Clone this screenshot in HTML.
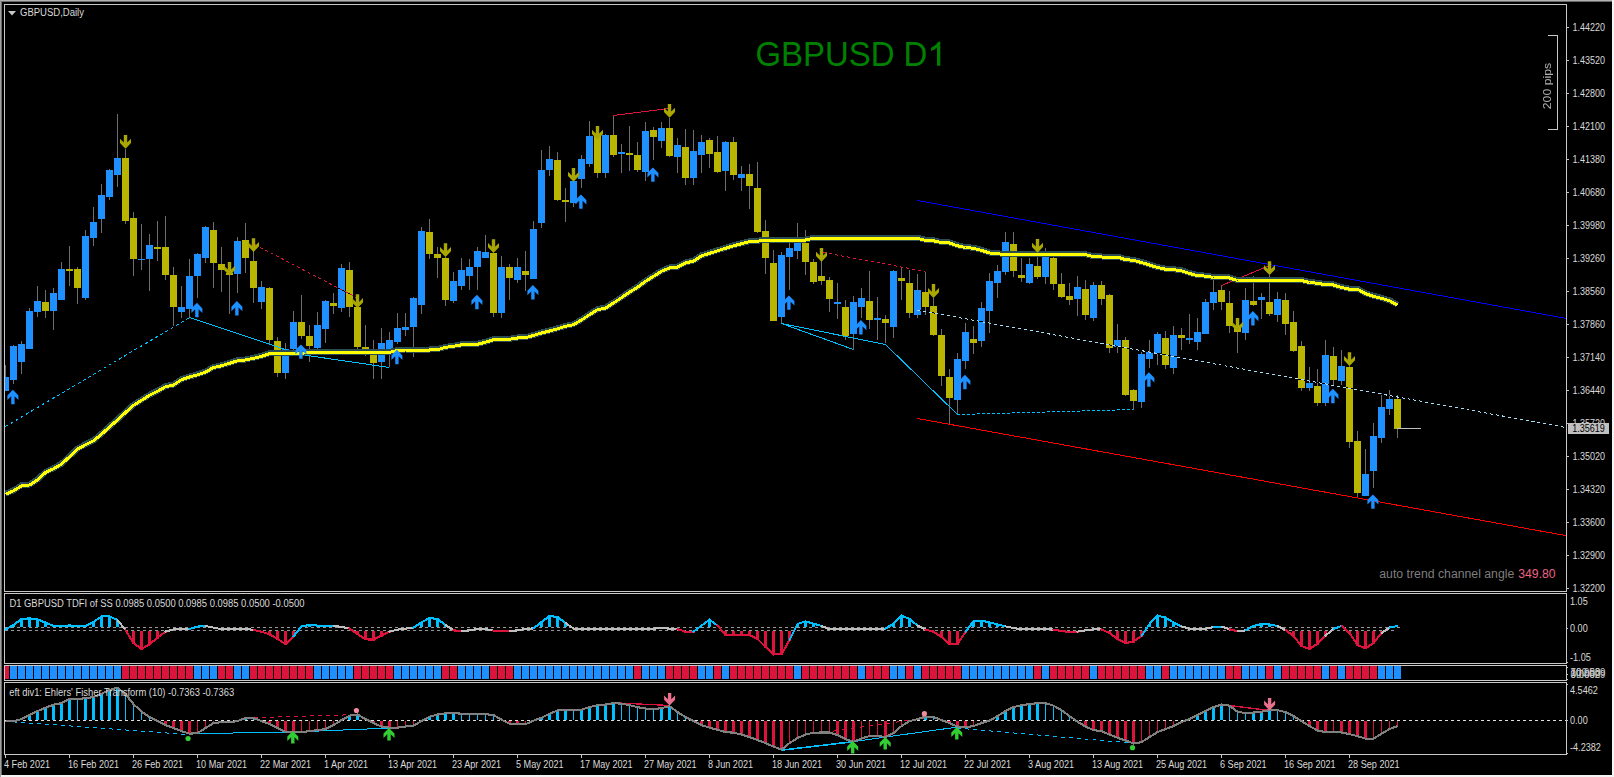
<!DOCTYPE html><html><head><meta charset="utf-8"><title>GBPUSD D1</title><style>html,body{margin:0;padding:0;background:#000;overflow:hidden}body{width:1614px;height:777px;font-family:"Liberation Sans", sans-serif}</style></head><body><svg width="1614" height="777" viewBox="0 0 1614 777" font-family='"Liberation Sans", sans-serif' style="display:block"><rect x="0" y="0" width="1614" height="777" fill="#000"/>
<rect x="0" y="0" width="1614" height="1" fill="#B2B2B2"/>
<rect x="0" y="0" width="1" height="777" fill="#A0A0A0"/>
<rect x="1" y="1" width="1612" height="1" fill="#696969"/>
<rect x="1" y="1" width="1" height="775" fill="#696969"/>
<rect x="1612" y="0" width="2" height="777" fill="#F4F4F4"/>
<rect x="0" y="775" width="1614" height="2" fill="#F4F4F4"/>
<rect x="0" y="0" width="1" height="777" fill="#A0A0A0"/>
<rect x="4" y="4" width="1" height="751" fill="#C8C8C8"/>
<rect x="4" y="4" width="1563" height="1" fill="#C8C8C8"/>
<rect x="1566" y="4" width="1" height="751" fill="#C8C8C8"/>
<rect x="4" y="591" width="1563" height="1" fill="#C8C8C8"/>
<rect x="4" y="593" width="1563" height="1" fill="#C8C8C8"/>
<rect x="4" y="663" width="1563" height="1" fill="#C8C8C8"/>
<rect x="4" y="665" width="1563" height="1" fill="#C8C8C8"/>
<rect x="4" y="680" width="1563" height="1" fill="#C8C8C8"/>
<rect x="4" y="682" width="1563" height="1" fill="#C8C8C8"/>
<rect x="4" y="754" width="1563" height="1" fill="#C8C8C8"/>
<rect x="1567" y="753" width="1" height="1" fill="#C8C8C8"/>
<rect x="4" y="592" width="1" height="1" fill="#000"/>
<rect x="1566" y="592" width="1" height="1" fill="#000"/>
<rect x="4" y="664" width="1" height="1" fill="#000"/>
<rect x="1566" y="664" width="1" height="1" fill="#000"/>
<rect x="4" y="681" width="1" height="1" fill="#000"/>
<rect x="1566" y="681" width="1" height="1" fill="#000"/>
<defs><clipPath id="cm"><rect x="5" y="5" width="1561" height="586"/></clipPath><clipPath id="c1"><rect x="5" y="594" width="1561" height="69"/></clipPath><clipPath id="c2"><rect x="5" y="666" width="1561" height="14"/></clipPath><clipPath id="c3"><rect x="5" y="683" width="1561" height="71"/></clipPath></defs>
<g clip-path="url(#cm)" shape-rendering="crispEdges">
<rect x="5" y="365" width="1" height="26" fill="#6E6E6E"/>
<rect x="2" y="377" width="7" height="14" fill="#1E90FF"/>
<rect x="13" y="345" width="1" height="39" fill="#6E6E6E"/>
<rect x="10" y="346" width="7" height="34" fill="#1E90FF"/>
<rect x="21" y="341" width="1" height="33" fill="#6E6E6E"/>
<rect x="18" y="344" width="7" height="18" fill="#1E90FF"/>
<rect x="29" y="308" width="1" height="41" fill="#6E6E6E"/>
<rect x="26" y="311" width="7" height="38" fill="#1E90FF"/>
<rect x="37" y="286" width="1" height="31" fill="#6E6E6E"/>
<rect x="34" y="301" width="7" height="11" fill="#1E90FF"/>
<rect x="45" y="290" width="1" height="28" fill="#6E6E6E"/>
<rect x="42" y="302" width="7" height="9" fill="#B9B500"/>
<rect x="53" y="288" width="1" height="42" fill="#6E6E6E"/>
<rect x="50" y="293" width="7" height="18" fill="#1E90FF"/>
<rect x="61" y="262" width="1" height="38" fill="#6E6E6E"/>
<rect x="58" y="269" width="7" height="31" fill="#1E90FF"/>
<rect x="69" y="246" width="1" height="40" fill="#6E6E6E"/>
<rect x="66" y="269" width="7" height="2" fill="#B9B500"/>
<rect x="77" y="267" width="1" height="37" fill="#6E6E6E"/>
<rect x="74" y="269" width="7" height="19" fill="#B9B500"/>
<rect x="85" y="230" width="1" height="70" fill="#6E6E6E"/>
<rect x="82" y="236" width="7" height="62" fill="#1E90FF"/>
<rect x="93" y="207" width="1" height="39" fill="#6E6E6E"/>
<rect x="90" y="222" width="7" height="16" fill="#1E90FF"/>
<rect x="101" y="184" width="1" height="49" fill="#6E6E6E"/>
<rect x="98" y="195" width="7" height="24" fill="#1E90FF"/>
<rect x="109" y="169" width="1" height="31" fill="#6E6E6E"/>
<rect x="106" y="170" width="7" height="27" fill="#1E90FF"/>
<rect x="117" y="114" width="1" height="73" fill="#6E6E6E"/>
<rect x="114" y="158" width="7" height="17" fill="#1E90FF"/>
<rect x="125" y="149" width="1" height="75" fill="#6E6E6E"/>
<rect x="122" y="158" width="7" height="63" fill="#B9B500"/>
<rect x="133" y="212" width="1" height="64" fill="#6E6E6E"/>
<rect x="130" y="218" width="7" height="41" fill="#B9B500"/>
<rect x="141" y="224" width="1" height="46" fill="#6E6E6E"/>
<rect x="138" y="259" width="7" height="1" fill="#1E90FF"/>
<rect x="149" y="234" width="1" height="57" fill="#6E6E6E"/>
<rect x="146" y="245" width="7" height="14" fill="#1E90FF"/>
<rect x="157" y="221" width="1" height="40" fill="#6E6E6E"/>
<rect x="154" y="247" width="7" height="2" fill="#B9B500"/>
<rect x="165" y="216" width="1" height="64" fill="#6E6E6E"/>
<rect x="162" y="247" width="7" height="28" fill="#B9B500"/>
<rect x="173" y="267" width="1" height="59" fill="#6E6E6E"/>
<rect x="170" y="275" width="7" height="32" fill="#B9B500"/>
<rect x="181" y="286" width="1" height="32" fill="#6E6E6E"/>
<rect x="178" y="307" width="7" height="5" fill="#1E90FF"/>
<rect x="189" y="259" width="1" height="58" fill="#6E6E6E"/>
<rect x="186" y="276" width="7" height="33" fill="#1E90FF"/>
<rect x="197" y="253" width="1" height="45" fill="#6E6E6E"/>
<rect x="194" y="254" width="7" height="22" fill="#1E90FF"/>
<rect x="205" y="226" width="1" height="37" fill="#6E6E6E"/>
<rect x="202" y="227" width="7" height="31" fill="#1E90FF"/>
<rect x="213" y="222" width="1" height="66" fill="#6E6E6E"/>
<rect x="210" y="230" width="7" height="33" fill="#B9B500"/>
<rect x="221" y="247" width="1" height="45" fill="#6E6E6E"/>
<rect x="218" y="264" width="7" height="6" fill="#B9B500"/>
<rect x="229" y="268" width="1" height="46" fill="#6E6E6E"/>
<rect x="226" y="273" width="7" height="2" fill="#B9B500"/>
<rect x="237" y="237" width="1" height="56" fill="#6E6E6E"/>
<rect x="234" y="241" width="7" height="33" fill="#1E90FF"/>
<rect x="245" y="223" width="1" height="50" fill="#6E6E6E"/>
<rect x="242" y="240" width="7" height="18" fill="#B9B500"/>
<rect x="253" y="251" width="1" height="52" fill="#6E6E6E"/>
<rect x="250" y="261" width="7" height="27" fill="#B9B500"/>
<rect x="261" y="281" width="1" height="28" fill="#6E6E6E"/>
<rect x="258" y="287" width="7" height="15" fill="#1E90FF"/>
<rect x="269" y="287" width="1" height="57" fill="#6E6E6E"/>
<rect x="266" y="288" width="7" height="52" fill="#B9B500"/>
<rect x="277" y="337" width="1" height="40" fill="#6E6E6E"/>
<rect x="274" y="341" width="7" height="32" fill="#B9B500"/>
<rect x="285" y="343" width="1" height="36" fill="#6E6E6E"/>
<rect x="282" y="349" width="7" height="24" fill="#1E90FF"/>
<rect x="293" y="311" width="1" height="40" fill="#6E6E6E"/>
<rect x="290" y="322" width="7" height="27" fill="#1E90FF"/>
<rect x="301" y="295" width="1" height="44" fill="#6E6E6E"/>
<rect x="298" y="322" width="7" height="14" fill="#B9B500"/>
<rect x="309" y="325" width="1" height="37" fill="#6E6E6E"/>
<rect x="306" y="336" width="7" height="10" fill="#B9B500"/>
<rect x="317" y="312" width="1" height="37" fill="#6E6E6E"/>
<rect x="314" y="325" width="7" height="23" fill="#1E90FF"/>
<rect x="325" y="300" width="1" height="43" fill="#6E6E6E"/>
<rect x="322" y="301" width="7" height="28" fill="#1E90FF"/>
<rect x="333" y="293" width="1" height="21" fill="#6E6E6E"/>
<rect x="330" y="303" width="7" height="3" fill="#B9B500"/>
<rect x="341" y="264" width="1" height="48" fill="#6E6E6E"/>
<rect x="338" y="268" width="7" height="40" fill="#1E90FF"/>
<rect x="349" y="262" width="1" height="55" fill="#6E6E6E"/>
<rect x="346" y="270" width="7" height="37" fill="#B9B500"/>
<rect x="357" y="305" width="1" height="44" fill="#6E6E6E"/>
<rect x="354" y="307" width="7" height="40" fill="#B9B500"/>
<rect x="365" y="325" width="1" height="31" fill="#6E6E6E"/>
<rect x="362" y="347" width="7" height="2" fill="#B9B500"/>
<rect x="373" y="340" width="1" height="39" fill="#6E6E6E"/>
<rect x="370" y="349" width="7" height="14" fill="#B9B500"/>
<rect x="381" y="328" width="1" height="51" fill="#6E6E6E"/>
<rect x="378" y="343" width="7" height="19" fill="#1E90FF"/>
<rect x="389" y="332" width="1" height="35" fill="#6E6E6E"/>
<rect x="386" y="340" width="7" height="11" fill="#1E90FF"/>
<rect x="397" y="313" width="1" height="31" fill="#6E6E6E"/>
<rect x="394" y="328" width="7" height="14" fill="#1E90FF"/>
<rect x="405" y="313" width="1" height="23" fill="#6E6E6E"/>
<rect x="402" y="327" width="7" height="3" fill="#1E90FF"/>
<rect x="413" y="297" width="1" height="60" fill="#6E6E6E"/>
<rect x="410" y="298" width="7" height="29" fill="#1E90FF"/>
<rect x="421" y="227" width="1" height="87" fill="#6E6E6E"/>
<rect x="418" y="231" width="7" height="74" fill="#1E90FF"/>
<rect x="429" y="219" width="1" height="40" fill="#6E6E6E"/>
<rect x="426" y="232" width="7" height="22" fill="#B9B500"/>
<rect x="437" y="247" width="1" height="31" fill="#6E6E6E"/>
<rect x="434" y="254" width="7" height="4" fill="#B9B500"/>
<rect x="445" y="257" width="1" height="49" fill="#6E6E6E"/>
<rect x="442" y="258" width="7" height="42" fill="#B9B500"/>
<rect x="453" y="272" width="1" height="31" fill="#6E6E6E"/>
<rect x="450" y="281" width="7" height="20" fill="#1E90FF"/>
<rect x="461" y="258" width="1" height="32" fill="#6E6E6E"/>
<rect x="458" y="270" width="7" height="16" fill="#1E90FF"/>
<rect x="469" y="259" width="1" height="31" fill="#6E6E6E"/>
<rect x="466" y="267" width="7" height="9" fill="#1E90FF"/>
<rect x="477" y="247" width="1" height="43" fill="#6E6E6E"/>
<rect x="474" y="251" width="7" height="16" fill="#1E90FF"/>
<rect x="485" y="235" width="1" height="23" fill="#6E6E6E"/>
<rect x="482" y="252" width="7" height="6" fill="#1E90FF"/>
<rect x="493" y="253" width="1" height="64" fill="#6E6E6E"/>
<rect x="490" y="253" width="7" height="60" fill="#B9B500"/>
<rect x="501" y="256" width="1" height="62" fill="#6E6E6E"/>
<rect x="498" y="267" width="7" height="46" fill="#1E90FF"/>
<rect x="509" y="264" width="1" height="36" fill="#6E6E6E"/>
<rect x="506" y="267" width="7" height="11" fill="#B9B500"/>
<rect x="517" y="258" width="1" height="25" fill="#6E6E6E"/>
<rect x="514" y="267" width="7" height="13" fill="#1E90FF"/>
<rect x="525" y="251" width="1" height="40" fill="#6E6E6E"/>
<rect x="522" y="271" width="7" height="4" fill="#B9B500"/>
<rect x="533" y="221" width="1" height="58" fill="#6E6E6E"/>
<rect x="530" y="229" width="7" height="50" fill="#1E90FF"/>
<rect x="541" y="150" width="1" height="78" fill="#6E6E6E"/>
<rect x="538" y="170" width="7" height="53" fill="#1E90FF"/>
<rect x="549" y="146" width="1" height="30" fill="#6E6E6E"/>
<rect x="546" y="159" width="7" height="11" fill="#1E90FF"/>
<rect x="557" y="152" width="1" height="49" fill="#6E6E6E"/>
<rect x="554" y="160" width="7" height="40" fill="#B9B500"/>
<rect x="565" y="188" width="1" height="34" fill="#6E6E6E"/>
<rect x="562" y="200" width="7" height="2" fill="#B9B500"/>
<rect x="573" y="180" width="1" height="27" fill="#6E6E6E"/>
<rect x="570" y="181" width="7" height="22" fill="#1E90FF"/>
<rect x="581" y="155" width="1" height="33" fill="#6E6E6E"/>
<rect x="578" y="159" width="7" height="20" fill="#1E90FF"/>
<rect x="589" y="121" width="1" height="46" fill="#6E6E6E"/>
<rect x="586" y="136" width="7" height="28" fill="#1E90FF"/>
<rect x="597" y="134" width="1" height="44" fill="#6E6E6E"/>
<rect x="594" y="135" width="7" height="38" fill="#B9B500"/>
<rect x="605" y="134" width="1" height="44" fill="#6E6E6E"/>
<rect x="602" y="135" width="7" height="38" fill="#1E90FF"/>
<rect x="613" y="115" width="1" height="42" fill="#6E6E6E"/>
<rect x="610" y="135" width="7" height="20" fill="#B9B500"/>
<rect x="621" y="144" width="1" height="29" fill="#6E6E6E"/>
<rect x="618" y="152" width="7" height="2" fill="#1E90FF"/>
<rect x="629" y="126" width="1" height="45" fill="#6E6E6E"/>
<rect x="626" y="153" width="7" height="2" fill="#B9B500"/>
<rect x="637" y="142" width="1" height="30" fill="#6E6E6E"/>
<rect x="634" y="155" width="7" height="15" fill="#B9B500"/>
<rect x="645" y="122" width="1" height="59" fill="#6E6E6E"/>
<rect x="642" y="131" width="7" height="41" fill="#1E90FF"/>
<rect x="653" y="127" width="1" height="33" fill="#6E6E6E"/>
<rect x="650" y="130" width="7" height="7" fill="#B9B500"/>
<rect x="661" y="122" width="1" height="26" fill="#6E6E6E"/>
<rect x="658" y="128" width="7" height="13" fill="#1E90FF"/>
<rect x="669" y="118" width="1" height="39" fill="#6E6E6E"/>
<rect x="666" y="128" width="7" height="28" fill="#B9B500"/>
<rect x="677" y="138" width="1" height="35" fill="#6E6E6E"/>
<rect x="674" y="145" width="7" height="12" fill="#1E90FF"/>
<rect x="685" y="129" width="1" height="56" fill="#6E6E6E"/>
<rect x="682" y="147" width="7" height="31" fill="#B9B500"/>
<rect x="693" y="130" width="1" height="55" fill="#6E6E6E"/>
<rect x="690" y="151" width="7" height="27" fill="#1E90FF"/>
<rect x="701" y="135" width="1" height="38" fill="#6E6E6E"/>
<rect x="698" y="142" width="7" height="13" fill="#1E90FF"/>
<rect x="709" y="138" width="1" height="30" fill="#6E6E6E"/>
<rect x="706" y="140" width="7" height="14" fill="#B9B500"/>
<rect x="717" y="136" width="1" height="37" fill="#6E6E6E"/>
<rect x="714" y="152" width="7" height="20" fill="#B9B500"/>
<rect x="725" y="141" width="1" height="50" fill="#6E6E6E"/>
<rect x="722" y="142" width="7" height="29" fill="#1E90FF"/>
<rect x="733" y="137" width="1" height="43" fill="#6E6E6E"/>
<rect x="730" y="142" width="7" height="33" fill="#B9B500"/>
<rect x="741" y="166" width="1" height="25" fill="#6E6E6E"/>
<rect x="738" y="174" width="7" height="4" fill="#1E90FF"/>
<rect x="749" y="164" width="1" height="45" fill="#6E6E6E"/>
<rect x="746" y="174" width="7" height="12" fill="#B9B500"/>
<rect x="757" y="162" width="1" height="71" fill="#6E6E6E"/>
<rect x="754" y="188" width="7" height="44" fill="#B9B500"/>
<rect x="765" y="220" width="1" height="54" fill="#6E6E6E"/>
<rect x="762" y="231" width="7" height="27" fill="#B9B500"/>
<rect x="773" y="250" width="1" height="71" fill="#6E6E6E"/>
<rect x="770" y="263" width="7" height="58" fill="#B9B500"/>
<rect x="781" y="252" width="1" height="71" fill="#6E6E6E"/>
<rect x="778" y="255" width="7" height="62" fill="#1E90FF"/>
<rect x="789" y="243" width="1" height="47" fill="#6E6E6E"/>
<rect x="786" y="248" width="7" height="9" fill="#1E90FF"/>
<rect x="797" y="223" width="1" height="36" fill="#6E6E6E"/>
<rect x="794" y="243" width="7" height="8" fill="#1E90FF"/>
<rect x="805" y="230" width="1" height="45" fill="#6E6E6E"/>
<rect x="802" y="243" width="7" height="19" fill="#B9B500"/>
<rect x="813" y="259" width="1" height="25" fill="#6E6E6E"/>
<rect x="810" y="262" width="7" height="20" fill="#B9B500"/>
<rect x="821" y="261" width="1" height="24" fill="#6E6E6E"/>
<rect x="818" y="276" width="7" height="5" fill="#B9B500"/>
<rect x="829" y="277" width="1" height="35" fill="#6E6E6E"/>
<rect x="826" y="280" width="7" height="19" fill="#B9B500"/>
<rect x="837" y="283" width="1" height="36" fill="#6E6E6E"/>
<rect x="834" y="302" width="7" height="2" fill="#1E90FF"/>
<rect x="845" y="300" width="1" height="40" fill="#6E6E6E"/>
<rect x="842" y="307" width="7" height="29" fill="#B9B500"/>
<rect x="853" y="296" width="1" height="54" fill="#6E6E6E"/>
<rect x="850" y="302" width="7" height="32" fill="#1E90FF"/>
<rect x="861" y="288" width="1" height="30" fill="#6E6E6E"/>
<rect x="858" y="298" width="7" height="9" fill="#1E90FF"/>
<rect x="869" y="271" width="1" height="58" fill="#6E6E6E"/>
<rect x="866" y="301" width="7" height="19" fill="#B9B500"/>
<rect x="877" y="297" width="1" height="43" fill="#6E6E6E"/>
<rect x="874" y="318" width="7" height="2" fill="#1E90FF"/>
<rect x="885" y="315" width="1" height="28" fill="#6E6E6E"/>
<rect x="882" y="319" width="7" height="4" fill="#B9B500"/>
<rect x="893" y="270" width="1" height="68" fill="#6E6E6E"/>
<rect x="890" y="271" width="7" height="56" fill="#1E90FF"/>
<rect x="901" y="267" width="1" height="33" fill="#6E6E6E"/>
<rect x="898" y="278" width="7" height="3" fill="#B9B500"/>
<rect x="909" y="270" width="1" height="48" fill="#6E6E6E"/>
<rect x="906" y="283" width="7" height="30" fill="#B9B500"/>
<rect x="917" y="274" width="1" height="44" fill="#6E6E6E"/>
<rect x="914" y="290" width="7" height="25" fill="#1E90FF"/>
<rect x="925" y="272" width="1" height="43" fill="#6E6E6E"/>
<rect x="922" y="292" width="7" height="15" fill="#B9B500"/>
<rect x="933" y="298" width="1" height="38" fill="#6E6E6E"/>
<rect x="930" y="306" width="7" height="29" fill="#B9B500"/>
<rect x="941" y="329" width="1" height="57" fill="#6E6E6E"/>
<rect x="938" y="335" width="7" height="41" fill="#B9B500"/>
<rect x="949" y="369" width="1" height="55" fill="#6E6E6E"/>
<rect x="946" y="377" width="7" height="21" fill="#B9B500"/>
<rect x="957" y="353" width="1" height="62" fill="#6E6E6E"/>
<rect x="954" y="359" width="7" height="41" fill="#1E90FF"/>
<rect x="965" y="323" width="1" height="46" fill="#6E6E6E"/>
<rect x="962" y="332" width="7" height="29" fill="#1E90FF"/>
<rect x="973" y="326" width="1" height="28" fill="#6E6E6E"/>
<rect x="970" y="339" width="7" height="4" fill="#B9B500"/>
<rect x="981" y="302" width="1" height="45" fill="#6E6E6E"/>
<rect x="978" y="308" width="7" height="33" fill="#1E90FF"/>
<rect x="989" y="273" width="1" height="60" fill="#6E6E6E"/>
<rect x="986" y="281" width="7" height="30" fill="#1E90FF"/>
<rect x="997" y="265" width="1" height="33" fill="#6E6E6E"/>
<rect x="994" y="271" width="7" height="12" fill="#1E90FF"/>
<rect x="1005" y="232" width="1" height="43" fill="#6E6E6E"/>
<rect x="1002" y="242" width="7" height="30" fill="#1E90FF"/>
<rect x="1013" y="232" width="1" height="45" fill="#6E6E6E"/>
<rect x="1010" y="244" width="7" height="27" fill="#B9B500"/>
<rect x="1021" y="258" width="1" height="24" fill="#6E6E6E"/>
<rect x="1018" y="275" width="7" height="3" fill="#B9B500"/>
<rect x="1029" y="258" width="1" height="26" fill="#6E6E6E"/>
<rect x="1026" y="264" width="7" height="19" fill="#1E90FF"/>
<rect x="1037" y="252" width="1" height="27" fill="#6E6E6E"/>
<rect x="1034" y="266" width="7" height="11" fill="#B9B500"/>
<rect x="1045" y="248" width="1" height="36" fill="#6E6E6E"/>
<rect x="1042" y="257" width="7" height="20" fill="#1E90FF"/>
<rect x="1053" y="257" width="1" height="33" fill="#6E6E6E"/>
<rect x="1050" y="258" width="7" height="26" fill="#B9B500"/>
<rect x="1061" y="273" width="1" height="25" fill="#6E6E6E"/>
<rect x="1058" y="284" width="7" height="13" fill="#B9B500"/>
<rect x="1069" y="283" width="1" height="22" fill="#6E6E6E"/>
<rect x="1066" y="296" width="7" height="4" fill="#B9B500"/>
<rect x="1077" y="276" width="1" height="40" fill="#6E6E6E"/>
<rect x="1074" y="287" width="7" height="12" fill="#1E90FF"/>
<rect x="1085" y="280" width="1" height="40" fill="#6E6E6E"/>
<rect x="1082" y="289" width="7" height="26" fill="#B9B500"/>
<rect x="1093" y="282" width="1" height="39" fill="#6E6E6E"/>
<rect x="1090" y="285" width="7" height="33" fill="#1E90FF"/>
<rect x="1101" y="281" width="1" height="24" fill="#6E6E6E"/>
<rect x="1098" y="285" width="7" height="14" fill="#B9B500"/>
<rect x="1109" y="294" width="1" height="59" fill="#6E6E6E"/>
<rect x="1106" y="295" width="7" height="53" fill="#B9B500"/>
<rect x="1117" y="324" width="1" height="29" fill="#6E6E6E"/>
<rect x="1114" y="340" width="7" height="7" fill="#1E90FF"/>
<rect x="1125" y="337" width="1" height="59" fill="#6E6E6E"/>
<rect x="1122" y="340" width="7" height="55" fill="#B9B500"/>
<rect x="1133" y="389" width="1" height="21" fill="#6E6E6E"/>
<rect x="1130" y="390" width="7" height="11" fill="#B9B500"/>
<rect x="1141" y="352" width="1" height="56" fill="#6E6E6E"/>
<rect x="1138" y="354" width="7" height="48" fill="#1E90FF"/>
<rect x="1149" y="340" width="1" height="28" fill="#6E6E6E"/>
<rect x="1146" y="352" width="7" height="7" fill="#1E90FF"/>
<rect x="1157" y="332" width="1" height="33" fill="#6E6E6E"/>
<rect x="1154" y="334" width="7" height="19" fill="#1E90FF"/>
<rect x="1165" y="331" width="1" height="38" fill="#6E6E6E"/>
<rect x="1162" y="338" width="7" height="27" fill="#B9B500"/>
<rect x="1173" y="326" width="1" height="48" fill="#6E6E6E"/>
<rect x="1170" y="335" width="7" height="33" fill="#1E90FF"/>
<rect x="1181" y="328" width="1" height="22" fill="#6E6E6E"/>
<rect x="1178" y="335" width="7" height="3" fill="#B9B500"/>
<rect x="1189" y="314" width="1" height="30" fill="#6E6E6E"/>
<rect x="1186" y="338" width="7" height="2" fill="#1E90FF"/>
<rect x="1197" y="318" width="1" height="32" fill="#6E6E6E"/>
<rect x="1194" y="332" width="7" height="10" fill="#1E90FF"/>
<rect x="1205" y="299" width="1" height="35" fill="#6E6E6E"/>
<rect x="1202" y="302" width="7" height="32" fill="#1E90FF"/>
<rect x="1213" y="280" width="1" height="30" fill="#6E6E6E"/>
<rect x="1210" y="292" width="7" height="11" fill="#1E90FF"/>
<rect x="1221" y="285" width="1" height="25" fill="#6E6E6E"/>
<rect x="1218" y="290" width="7" height="12" fill="#B9B500"/>
<rect x="1229" y="291" width="1" height="42" fill="#6E6E6E"/>
<rect x="1226" y="303" width="7" height="23" fill="#B9B500"/>
<rect x="1237" y="322" width="1" height="31" fill="#6E6E6E"/>
<rect x="1234" y="326" width="7" height="6" fill="#B9B500"/>
<rect x="1245" y="288" width="1" height="52" fill="#6E6E6E"/>
<rect x="1242" y="300" width="7" height="33" fill="#1E90FF"/>
<rect x="1253" y="276" width="1" height="30" fill="#6E6E6E"/>
<rect x="1250" y="301" width="7" height="4" fill="#B9B500"/>
<rect x="1261" y="293" width="1" height="26" fill="#6E6E6E"/>
<rect x="1258" y="297" width="7" height="3" fill="#1E90FF"/>
<rect x="1269" y="275" width="1" height="41" fill="#6E6E6E"/>
<rect x="1266" y="302" width="7" height="12" fill="#B9B500"/>
<rect x="1277" y="292" width="1" height="30" fill="#6E6E6E"/>
<rect x="1274" y="299" width="7" height="16" fill="#1E90FF"/>
<rect x="1285" y="293" width="1" height="42" fill="#6E6E6E"/>
<rect x="1282" y="300" width="7" height="24" fill="#B9B500"/>
<rect x="1293" y="311" width="1" height="41" fill="#6E6E6E"/>
<rect x="1290" y="322" width="7" height="29" fill="#B9B500"/>
<rect x="1301" y="341" width="1" height="50" fill="#6E6E6E"/>
<rect x="1298" y="346" width="7" height="42" fill="#B9B500"/>
<rect x="1309" y="367" width="1" height="24" fill="#6E6E6E"/>
<rect x="1306" y="383" width="7" height="5" fill="#1E90FF"/>
<rect x="1317" y="369" width="1" height="37" fill="#6E6E6E"/>
<rect x="1314" y="386" width="7" height="17" fill="#B9B500"/>
<rect x="1325" y="340" width="1" height="66" fill="#6E6E6E"/>
<rect x="1322" y="355" width="7" height="48" fill="#1E90FF"/>
<rect x="1333" y="347" width="1" height="38" fill="#6E6E6E"/>
<rect x="1330" y="356" width="7" height="24" fill="#B9B500"/>
<rect x="1341" y="350" width="1" height="35" fill="#6E6E6E"/>
<rect x="1338" y="366" width="7" height="15" fill="#1E90FF"/>
<rect x="1349" y="366" width="1" height="82" fill="#6E6E6E"/>
<rect x="1346" y="367" width="7" height="75" fill="#B9B500"/>
<rect x="1357" y="431" width="1" height="67" fill="#6E6E6E"/>
<rect x="1354" y="441" width="7" height="52" fill="#B9B500"/>
<rect x="1365" y="449" width="1" height="47" fill="#6E6E6E"/>
<rect x="1362" y="474" width="7" height="22" fill="#1E90FF"/>
<rect x="1373" y="423" width="1" height="65" fill="#6E6E6E"/>
<rect x="1370" y="436" width="7" height="35" fill="#1E90FF"/>
<rect x="1381" y="393" width="1" height="50" fill="#6E6E6E"/>
<rect x="1378" y="407" width="7" height="31" fill="#1E90FF"/>
<rect x="1389" y="390" width="1" height="25" fill="#6E6E6E"/>
<rect x="1386" y="399" width="7" height="10" fill="#1E90FF"/>
<rect x="1397" y="395" width="1" height="43" fill="#6E6E6E"/>
<rect x="1394" y="399" width="7" height="30" fill="#B9B500"/>
<rect x="1397" y="428" width="24" height="1" fill="#C0C0C0"/>
<line x1="5.5" y1="426.5" x2="189.5" y2="317.5" stroke="#000" stroke-width="1"/>
<line x1="5.5" y1="426.5" x2="189.5" y2="317.5" stroke="#00BFFF" stroke-width="1" stroke-dasharray="3 3"/>
<polyline points="189.5,317.5 300.5,354.5 389.5,367.5" fill="none" stroke="#00BFFF" stroke-width="1" />
<line x1="254.5" y1="244.5" x2="356.5" y2="297.5" stroke="#000" stroke-width="1"/>
<line x1="254.5" y1="244.5" x2="356.5" y2="297.5" stroke="#DC143C" stroke-width="1" stroke-dasharray="3 3"/>
<line x1="613.5" y1="115.5" x2="669.5" y2="108.5" stroke="#DC143C" stroke-width="1"/>
<line x1="823.5" y1="252.5" x2="925.5" y2="271.5" stroke="#000" stroke-width="1"/>
<line x1="823.5" y1="252.5" x2="925.5" y2="271.5" stroke="#DC143C" stroke-width="1" stroke-dasharray="3 3"/>
<line x1="781.5" y1="323.5" x2="853.5" y2="349.5" stroke="#00BFFF" stroke-width="1"/>
<polyline points="781.5,323.5 885.5,344.5 957.5,414.5" fill="none" stroke="#00BFFF" stroke-width="1" />
<line x1="957.5" y1="414.5" x2="1133.5" y2="409.5" stroke="#000" stroke-width="1"/>
<line x1="957.5" y1="414.5" x2="1133.5" y2="409.5" stroke="#00BFFF" stroke-width="1" stroke-dasharray="3 2"/>
<line x1="1221.5" y1="285.5" x2="1269.5" y2="265.5" stroke="#DC143C" stroke-width="1"/>
<line x1="917.5" y1="200.5" x2="1566.5" y2="318.5" stroke="#0000FF" stroke-width="1"/>
<line x1="917.5" y1="418.5" x2="1566.5" y2="535.7" stroke="#FF0000" stroke-width="1"/>
<line x1="917.5" y1="310.1" x2="1566.5" y2="427.6" stroke="#000" stroke-width="1"/>
<line x1="917.5" y1="310.1" x2="1566.5" y2="427.6" stroke="#A6DDF2" stroke-width="1" stroke-dasharray="3 3"/>
</g>
<g clip-path="url(#cm)" shape-rendering="crispEdges">
<polyline points="5.5,493.7 13.5,490.3 21.5,485.3 29.5,484.5 37.5,479.5 45.5,472.0 53.5,468.2 61.5,463.7 69.5,456.2 77.5,448.7 85.5,444.2 93.5,440.3 101.5,433.7 109.5,426.5 117.5,419.5 125.5,412.0 133.5,404.8 141.5,399.8 149.5,394.8 157.5,390.8 165.5,386.2 173.5,384.5 181.5,379.2 189.5,376.5 197.5,374.3 205.5,371.6 213.5,367.0 221.5,365.3 229.5,362.8 237.5,360.3 245.5,359.5 253.5,357.8 261.5,355.8 269.5,353.2 277.5,353.2 285.5,353.2 293.5,353.2 301.5,352.8 309.5,352.0 317.5,352.0 325.5,352.0 333.5,352.0 341.5,352.0 349.5,352.0 357.5,352.0 365.5,352.0 373.5,352.0 381.5,352.0 389.5,352.0 397.5,349.8 405.5,349.5 413.5,349.5 421.5,349.5 429.5,349.5 437.5,349.2 445.5,346.8 453.5,345.8 461.5,344.3 469.5,343.9 477.5,343.8 485.5,341.7 493.5,339.2 501.5,338.8 509.5,338.8 517.5,337.5 525.5,337.2 533.5,335.0 541.5,332.5 549.5,330.5 557.5,328.3 565.5,325.8 573.5,324.2 581.5,319.5 589.5,314.2 597.5,309.2 605.5,307.5 613.5,302.5 621.5,297.2 629.5,291.7 637.5,286.7 645.5,280.8 653.5,275.8 661.5,270.8 669.5,267.5 677.5,266.7 685.5,262.5 693.5,260.6 701.5,255.3 709.5,252.9 717.5,250.3 725.5,247.8 733.5,245.3 741.5,243.2 749.5,241.2 757.5,240.8 765.5,239.5 773.5,239.5 781.5,239.5 789.5,239.5 797.5,239.5 805.5,239.5 813.5,237.8 821.5,237.8 829.5,237.8 837.5,237.8 845.5,237.8 853.5,237.8 861.5,237.8 869.5,237.8 877.5,237.8 885.5,237.8 893.5,237.8 901.5,237.8 909.5,237.8 917.5,237.8 925.5,239.8 933.5,240.3 941.5,242.0 949.5,242.5 957.5,245.3 965.5,247.0 973.5,247.8 981.5,249.8 989.5,252.5 997.5,253.2 1005.5,254.2 1013.5,254.2 1021.5,254.2 1029.5,254.2 1037.5,254.2 1045.5,254.2 1053.5,254.2 1061.5,254.2 1069.5,254.2 1077.5,254.2 1085.5,254.2 1093.5,256.2 1101.5,256.5 1109.5,256.5 1117.5,256.5 1125.5,259.2 1133.5,259.8 1141.5,262.0 1149.5,264.5 1157.5,267.0 1165.5,268.7 1173.5,269.2 1181.5,270.3 1189.5,273.0 1197.5,275.1 1205.5,275.6 1213.5,277.0 1221.5,277.0 1229.5,277.5 1237.5,280.0 1245.5,280.0 1253.5,280.0 1261.5,280.0 1269.5,280.0 1277.5,280.0 1285.5,280.0 1293.5,280.0 1301.5,280.0 1309.5,282.0 1317.5,282.8 1325.5,284.2 1333.5,284.5 1341.5,287.0 1349.5,288.7 1357.5,288.7 1365.5,293.2 1373.5,295.8 1381.5,297.8 1389.5,300.3 1397.5,304.5" fill="none" stroke="#2B4C50" stroke-width="6" stroke-linejoin="round"/>
<polyline points="5.5,494.2 13.5,490.8 21.5,485.8 29.5,485.0 37.5,480.0 45.5,472.5 53.5,468.7 61.5,464.2 69.5,456.7 77.5,449.2 85.5,444.7 93.5,440.8 101.5,434.2 109.5,427.0 117.5,420.0 125.5,412.5 133.5,405.3 141.5,400.3 149.5,395.3 157.5,391.3 165.5,386.7 173.5,385.0 181.5,379.7 189.5,377.0 197.5,374.8 205.5,372.1 213.5,367.5 221.5,365.8 229.5,363.3 237.5,360.8 245.5,360.0 253.5,358.3 261.5,356.3 269.5,353.7 277.5,353.7 285.5,353.7 293.5,353.7 301.5,353.3 309.5,352.5 317.5,352.5 325.5,352.5 333.5,352.5 341.5,352.5 349.5,352.5 357.5,352.5 365.5,352.5 373.5,352.5 381.5,352.5 389.5,352.5 397.5,350.3 405.5,350.0 413.5,350.0 421.5,350.0 429.5,350.0 437.5,349.7 445.5,347.3 453.5,346.3 461.5,344.8 469.5,344.4 477.5,344.3 485.5,342.2 493.5,339.7 501.5,339.3 509.5,339.3 517.5,338.0 525.5,337.7 533.5,335.5 541.5,333.0 549.5,331.0 557.5,328.8 565.5,326.3 573.5,324.7 581.5,320.0 589.5,314.7 597.5,309.7 605.5,308.0 613.5,303.0 621.5,297.7 629.5,292.2 637.5,287.2 645.5,281.3 653.5,276.3 661.5,271.3 669.5,268.0 677.5,267.2 685.5,263.0 693.5,261.1 701.5,255.8 709.5,253.4 717.5,250.8 725.5,248.3 733.5,245.8 741.5,243.7 749.5,241.7 757.5,241.3 765.5,240.0 773.5,240.0 781.5,240.0 789.5,240.0 797.5,240.0 805.5,240.0 813.5,238.3 821.5,238.3 829.5,238.3 837.5,238.3 845.5,238.3 853.5,238.3 861.5,238.3 869.5,238.3 877.5,238.3 885.5,238.3 893.5,238.3 901.5,238.3 909.5,238.3 917.5,238.3 925.5,240.3 933.5,240.8 941.5,242.5 949.5,243.0 957.5,245.8 965.5,247.5 973.5,248.3 981.5,250.3 989.5,253.0 997.5,253.7 1005.5,254.7 1013.5,254.7 1021.5,254.7 1029.5,254.7 1037.5,254.7 1045.5,254.7 1053.5,254.7 1061.5,254.7 1069.5,254.7 1077.5,254.7 1085.5,254.7 1093.5,256.7 1101.5,257.0 1109.5,257.0 1117.5,257.0 1125.5,259.7 1133.5,260.3 1141.5,262.5 1149.5,265.0 1157.5,267.5 1165.5,269.2 1173.5,269.7 1181.5,270.8 1189.5,273.5 1197.5,275.6 1205.5,276.1 1213.5,277.5 1221.5,277.5 1229.5,278.0 1237.5,280.5 1245.5,280.5 1253.5,280.5 1261.5,280.5 1269.5,280.5 1277.5,280.5 1285.5,280.5 1293.5,280.5 1301.5,280.5 1309.5,282.5 1317.5,283.3 1325.5,284.7 1333.5,285.0 1341.5,287.5 1349.5,289.2 1357.5,289.2 1365.5,293.7 1373.5,296.3 1381.5,298.3 1389.5,300.8 1397.5,305.0" fill="none" stroke="#FFFF00" stroke-width="3" stroke-linejoin="round"/>
</g>
<g clip-path="url(#cm)">
<polygon points="12.9,389.8 18.4,395.5 18.4,400.0 14.6,396.2 14.6,404.2 11.2,404.2 11.2,396.2 7.4,400.0 7.4,395.5" fill="#1E90FF"/>
<polygon points="196.9,302.8 202.4,308.5 202.4,313.0 198.6,309.2 198.6,317.2 195.2,317.2 195.2,309.2 191.4,313.0 191.4,308.5" fill="#1E90FF"/>
<polygon points="236.9,301.1 242.4,306.8 242.4,311.3 238.6,307.5 238.6,315.5 235.2,315.5 235.2,307.5 231.4,311.3 231.4,306.8" fill="#1E90FF"/>
<polygon points="300.9,344.4 306.4,350.1 306.4,354.6 302.6,350.8 302.6,358.8 299.2,358.8 299.2,350.8 295.4,354.6 295.4,350.1" fill="#1E90FF"/>
<polygon points="396.9,349.8 402.4,355.5 402.4,360.0 398.6,356.2 398.6,364.2 395.2,364.2 395.2,356.2 391.4,360.0 391.4,355.5" fill="#1E90FF"/>
<polygon points="125.5,148.8 131.0,143.1 131.0,138.8 127.2,142.6 127.2,135.0 123.8,135.0 123.8,142.6 120.0,138.8 120.0,143.1" fill="#AAA800"/>
<polygon points="229.5,275.8 235.0,270.1 235.0,265.8 231.2,269.6 231.2,262.0 227.8,262.0 227.8,269.6 224.0,265.8 224.0,270.1" fill="#AAA800"/>
<polygon points="253.5,252.0 259.0,246.3 259.0,242.0 255.2,245.8 255.2,238.2 251.8,238.2 251.8,245.8 248.0,242.0 248.0,246.3" fill="#AAA800"/>
<polygon points="357.5,308.1 363.0,302.4 363.0,298.1 359.2,301.9 359.2,294.3 355.8,294.3 355.8,301.9 352.0,298.1 352.0,302.4" fill="#AAA800"/>
<polygon points="445.5,257.0 451.0,251.3 451.0,247.0 447.2,250.8 447.2,243.2 443.8,243.2 443.8,250.8 440.0,247.0 440.0,251.3" fill="#AAA800"/>
<polygon points="493.5,253.0 499.0,247.3 499.0,243.0 495.2,246.8 495.2,239.2 491.8,239.2 491.8,246.8 488.0,243.0 488.0,247.3" fill="#AAA800"/>
<polygon points="573.5,181.8 579.0,176.1 579.0,171.8 575.2,175.6 575.2,168.0 571.8,168.0 571.8,175.6 568.0,171.8 568.0,176.1" fill="#AAA800"/>
<polygon points="597.5,139.8 603.0,134.1 603.0,129.8 599.2,133.6 599.2,126.0 595.8,126.0 595.8,133.6 592.0,129.8 592.0,134.1" fill="#AAA800"/>
<polygon points="669.5,117.8 675.0,112.1 675.0,107.8 671.2,111.6 671.2,104.0 667.8,104.0 667.8,111.6 664.0,107.8 664.0,112.1" fill="#AAA800"/>
<polygon points="580.9,194.4 586.4,200.1 586.4,204.6 582.6,200.8 582.6,208.8 579.2,208.8 579.2,200.8 575.4,204.6 575.4,200.1" fill="#1E90FF"/>
<polygon points="652.9,167.4 658.4,173.1 658.4,177.6 654.6,173.8 654.6,181.8 651.2,181.8 651.2,173.8 647.4,177.6 647.4,173.1" fill="#1E90FF"/>
<polygon points="476.9,294.8 482.4,300.5 482.4,305.0 478.6,301.2 478.6,309.2 475.2,309.2 475.2,301.2 471.4,305.0 471.4,300.5" fill="#1E90FF"/>
<polygon points="532.9,285.1 538.4,290.8 538.4,295.3 534.6,291.5 534.6,299.5 531.2,299.5 531.2,291.5 527.4,295.3 527.4,290.8" fill="#1E90FF"/>
<polygon points="788.9,295.4 794.4,301.1 794.4,305.6 790.6,301.8 790.6,309.8 787.2,309.8 787.2,301.8 783.4,305.6 783.4,301.1" fill="#1E90FF"/>
<polygon points="821.5,261.8 827.0,256.1 827.0,251.8 823.2,255.6 823.2,248.0 819.8,248.0 819.8,255.6 816.0,251.8 816.0,256.1" fill="#AAA800"/>
<polygon points="933.5,297.9 939.0,292.2 939.0,287.9 935.2,291.7 935.2,284.1 931.8,284.1 931.8,291.7 928.0,287.9 928.0,292.2" fill="#AAA800"/>
<polygon points="1037.5,252.8 1043.0,247.1 1043.0,242.8 1039.2,246.6 1039.2,239.0 1035.8,239.0 1035.8,246.6 1032.0,242.8 1032.0,247.1" fill="#AAA800"/>
<polygon points="860.9,320.0 866.4,325.7 866.4,330.2 862.6,326.4 862.6,334.4 859.2,334.4 859.2,326.4 855.4,330.2 855.4,325.7" fill="#1E90FF"/>
<polygon points="964.9,374.8 970.4,380.5 970.4,385.0 966.6,381.2 966.6,389.2 963.2,389.2 963.2,381.2 959.4,385.0 959.4,380.5" fill="#1E90FF"/>
<polygon points="1148.9,372.3 1154.4,378.0 1154.4,382.5 1150.6,378.7 1150.6,386.7 1147.2,386.7 1147.2,378.7 1143.4,382.5 1143.4,378.0" fill="#1E90FF"/>
<polygon points="1237.5,331.8 1243.0,326.1 1243.0,321.8 1239.2,325.6 1239.2,318.0 1235.8,318.0 1235.8,325.6 1232.0,321.8 1232.0,326.1" fill="#AAA800"/>
<polygon points="1269.5,275.1 1275.0,269.4 1275.0,265.1 1271.2,268.9 1271.2,261.3 1267.8,261.3 1267.8,268.9 1264.0,265.1 1264.0,269.4" fill="#AAA800"/>
<polygon points="1349.5,366.0 1355.0,360.3 1355.0,356.0 1351.2,359.8 1351.2,352.2 1347.8,352.2 1347.8,359.8 1344.0,356.0 1344.0,360.3" fill="#AAA800"/>
<polygon points="1252.9,311.0 1258.4,316.7 1258.4,321.2 1254.6,317.4 1254.6,325.4 1251.2,325.4 1251.2,317.4 1247.4,321.2 1247.4,316.7" fill="#1E90FF"/>
<polygon points="1332.9,388.8 1338.4,394.5 1338.4,399.0 1334.6,395.2 1334.6,403.2 1331.2,403.2 1331.2,395.2 1327.4,399.0 1327.4,394.5" fill="#1E90FF"/>
<polygon points="1372.9,494.4 1378.4,500.1 1378.4,504.6 1374.6,500.8 1374.6,508.8 1371.2,508.8 1371.2,500.8 1367.4,504.6 1367.4,500.1" fill="#1E90FF"/>
</g>
<polygon points="8,11 16,11 12,15.5" fill="#C8C8C8"/>
<text x="20.0" y="16.4" font-size="10.0" fill="#DADADA" textLength="64.0" lengthAdjust="spacingAndGlyphs" >GBPUSD,Daily</text>
<text x="755.4" y="65.7" font-size="35.3" fill="#008000" textLength="172.0" lengthAdjust="spacingAndGlyphs" >GBPUSD D</text>
<polygon points="940.3,41.7 938.2,41.7 936.6,44.0 934.2,46.0 931.1,47.8 931.1,50.9 934.4,49.5 937.0,47.4 937.0,65.8 940.3,65.8" fill="#008000"/>
<text x="1379.3" y="578.0" font-size="12" fill="#7E7E7E" textLength="135.0" lengthAdjust="spacingAndGlyphs" >auto trend channel angle</text>
<text x="1518.3" y="578.0" font-size="12" fill="#EE6482" textLength="37.3" lengthAdjust="spacingAndGlyphs" >349.80</text>
<rect x="1548" y="35" width="10" height="1" fill="#C8C8C8"/>
<rect x="1548" y="129" width="10" height="1" fill="#C8C8C8"/>
<rect x="1557" y="35" width="1" height="95" fill="#C8C8C8"/>
<text transform="translate(1551,109.3) rotate(-90)" font-size="10.7" fill="#B0B0B0" style="filter:grayscale(1)" textLength="46.5" lengthAdjust="spacingAndGlyphs">200 pips</text>
<rect x="1567" y="27" width="2" height="1" fill="#C8C8C8"/>
<text x="1572.5" y="31.0" font-size="10.0" fill="#DADADA" textLength="32.5" lengthAdjust="spacingAndGlyphs" >1.44220</text>
<rect x="1567" y="60" width="2" height="1" fill="#C8C8C8"/>
<text x="1572.5" y="64.0" font-size="10.0" fill="#DADADA" textLength="32.5" lengthAdjust="spacingAndGlyphs" >1.43520</text>
<rect x="1567" y="93" width="2" height="1" fill="#C8C8C8"/>
<text x="1572.5" y="97.0" font-size="10.0" fill="#DADADA" textLength="32.5" lengthAdjust="spacingAndGlyphs" >1.42800</text>
<rect x="1567" y="126" width="2" height="1" fill="#C8C8C8"/>
<text x="1572.5" y="130.0" font-size="10.0" fill="#DADADA" textLength="32.5" lengthAdjust="spacingAndGlyphs" >1.42100</text>
<rect x="1567" y="159" width="2" height="1" fill="#C8C8C8"/>
<text x="1572.5" y="163.0" font-size="10.0" fill="#DADADA" textLength="32.5" lengthAdjust="spacingAndGlyphs" >1.41380</text>
<rect x="1567" y="192" width="2" height="1" fill="#C8C8C8"/>
<text x="1572.5" y="196.0" font-size="10.0" fill="#DADADA" textLength="32.5" lengthAdjust="spacingAndGlyphs" >1.40680</text>
<rect x="1567" y="225" width="2" height="1" fill="#C8C8C8"/>
<text x="1572.5" y="229.0" font-size="10.0" fill="#DADADA" textLength="32.5" lengthAdjust="spacingAndGlyphs" >1.39980</text>
<rect x="1567" y="258" width="2" height="1" fill="#C8C8C8"/>
<text x="1572.5" y="262.0" font-size="10.0" fill="#DADADA" textLength="32.5" lengthAdjust="spacingAndGlyphs" >1.39260</text>
<rect x="1567" y="291" width="2" height="1" fill="#C8C8C8"/>
<text x="1572.5" y="295.0" font-size="10.0" fill="#DADADA" textLength="32.5" lengthAdjust="spacingAndGlyphs" >1.38560</text>
<rect x="1567" y="324" width="2" height="1" fill="#C8C8C8"/>
<text x="1572.5" y="328.0" font-size="10.0" fill="#DADADA" textLength="32.5" lengthAdjust="spacingAndGlyphs" >1.37860</text>
<rect x="1567" y="357" width="2" height="1" fill="#C8C8C8"/>
<text x="1572.5" y="361.0" font-size="10.0" fill="#DADADA" textLength="32.5" lengthAdjust="spacingAndGlyphs" >1.37140</text>
<rect x="1567" y="390" width="2" height="1" fill="#C8C8C8"/>
<text x="1572.5" y="394.0" font-size="10.0" fill="#DADADA" textLength="32.5" lengthAdjust="spacingAndGlyphs" >1.36440</text>
<rect x="1567" y="423" width="2" height="1" fill="#C8C8C8"/>
<text x="1572.5" y="427.0" font-size="10.0" fill="#DADADA" textLength="32.5" lengthAdjust="spacingAndGlyphs" >1.35720</text>
<rect x="1567" y="456" width="2" height="1" fill="#C8C8C8"/>
<text x="1572.5" y="460.0" font-size="10.0" fill="#DADADA" textLength="32.5" lengthAdjust="spacingAndGlyphs" >1.35020</text>
<rect x="1567" y="489" width="2" height="1" fill="#C8C8C8"/>
<text x="1572.5" y="493.0" font-size="10.0" fill="#DADADA" textLength="32.5" lengthAdjust="spacingAndGlyphs" >1.34320</text>
<rect x="1567" y="522" width="2" height="1" fill="#C8C8C8"/>
<text x="1572.5" y="526.0" font-size="10.0" fill="#DADADA" textLength="32.5" lengthAdjust="spacingAndGlyphs" >1.33600</text>
<rect x="1567" y="555" width="2" height="1" fill="#C8C8C8"/>
<text x="1572.5" y="559.0" font-size="10.0" fill="#DADADA" textLength="32.5" lengthAdjust="spacingAndGlyphs" >1.32900</text>
<rect x="1567" y="588" width="2" height="1" fill="#C8C8C8"/>
<text x="1572.5" y="592.0" font-size="10.0" fill="#DADADA" textLength="32.5" lengthAdjust="spacingAndGlyphs" >1.32200</text>
<rect x="1568" y="423" width="41" height="11" fill="#C0C0C0"/>
<text x="1572.3" y="432.0" font-size="10.0" fill="#000" textLength="32.5" lengthAdjust="spacingAndGlyphs" >1.35619</text>
<text x="9.4" y="606.7" font-size="10.0" fill="#DADADA" textLength="295.0" lengthAdjust="spacingAndGlyphs" >D1 GBPUSD TDFI of SS 0.0985 0.0500 0.0985 0.0985 0.0500 -0.0500</text>
<g clip-path="url(#c1)" shape-rendering="crispEdges">
<line x1="5" y1="627.5" x2="1400" y2="627.5" stroke="#989898" stroke-width="1" stroke-dasharray="3 3"/>
<line x1="5" y1="630.5" x2="1396" y2="630.5" stroke="#989898" stroke-width="1" stroke-dasharray="3 3"/>
<rect x="12" y="625" width="3" height="2" fill="#00BFFF"/>
<rect x="20" y="619" width="3" height="8" fill="#00BFFF"/>
<rect x="28" y="618" width="3" height="9" fill="#00BFFF"/>
<rect x="36" y="619" width="3" height="8" fill="#00BFFF"/>
<rect x="44" y="623" width="3" height="4" fill="#00BFFF"/>
<rect x="68" y="625" width="3" height="2" fill="#00BFFF"/>
<rect x="92" y="622" width="3" height="5" fill="#00BFFF"/>
<rect x="100" y="616" width="3" height="11" fill="#00BFFF"/>
<rect x="108" y="616" width="3" height="11" fill="#00BFFF"/>
<rect x="116" y="620" width="3" height="7" fill="#00BFFF"/>
<rect x="132" y="631" width="3" height="13" fill="#DC143C"/>
<rect x="140" y="631" width="3" height="19" fill="#DC143C"/>
<rect x="148" y="631" width="3" height="14" fill="#DC143C"/>
<rect x="156" y="631" width="3" height="8" fill="#DC143C"/>
<rect x="164" y="631" width="3" height="2" fill="#DC143C"/>
<rect x="260" y="631" width="3" height="2" fill="#DC143C"/>
<rect x="268" y="631" width="3" height="4" fill="#DC143C"/>
<rect x="276" y="631" width="3" height="9" fill="#DC143C"/>
<rect x="284" y="631" width="3" height="14" fill="#DC143C"/>
<rect x="292" y="631" width="3" height="6" fill="#DC143C"/>
<rect x="308" y="625" width="3" height="2" fill="#00BFFF"/>
<rect x="356" y="631" width="3" height="4" fill="#DC143C"/>
<rect x="364" y="631" width="3" height="9" fill="#DC143C"/>
<rect x="372" y="631" width="3" height="10" fill="#DC143C"/>
<rect x="380" y="631" width="3" height="6" fill="#DC143C"/>
<rect x="388" y="631" width="3" height="2" fill="#DC143C"/>
<rect x="420" y="622" width="3" height="5" fill="#00BFFF"/>
<rect x="428" y="618" width="3" height="9" fill="#00BFFF"/>
<rect x="436" y="619" width="3" height="8" fill="#00BFFF"/>
<rect x="444" y="625" width="3" height="2" fill="#00BFFF"/>
<rect x="540" y="622" width="3" height="5" fill="#00BFFF"/>
<rect x="548" y="616" width="3" height="11" fill="#00BFFF"/>
<rect x="556" y="617" width="3" height="10" fill="#00BFFF"/>
<rect x="564" y="623" width="3" height="4" fill="#00BFFF"/>
<rect x="684" y="631" width="3" height="2" fill="#DC143C"/>
<rect x="692" y="631" width="3" height="2" fill="#DC143C"/>
<rect x="708" y="620" width="3" height="7" fill="#00BFFF"/>
<rect x="724" y="631" width="3" height="5" fill="#DC143C"/>
<rect x="732" y="631" width="3" height="5" fill="#DC143C"/>
<rect x="740" y="631" width="3" height="5" fill="#DC143C"/>
<rect x="748" y="631" width="3" height="5" fill="#DC143C"/>
<rect x="756" y="631" width="3" height="9" fill="#DC143C"/>
<rect x="764" y="631" width="3" height="17" fill="#DC143C"/>
<rect x="772" y="631" width="3" height="24" fill="#DC143C"/>
<rect x="780" y="631" width="3" height="24" fill="#DC143C"/>
<rect x="788" y="631" width="3" height="10" fill="#DC143C"/>
<rect x="796" y="624" width="3" height="3" fill="#00BFFF"/>
<rect x="804" y="621" width="3" height="6" fill="#00BFFF"/>
<rect x="812" y="624" width="3" height="3" fill="#00BFFF"/>
<rect x="892" y="624" width="3" height="3" fill="#00BFFF"/>
<rect x="900" y="616" width="3" height="11" fill="#00BFFF"/>
<rect x="908" y="619" width="3" height="8" fill="#00BFFF"/>
<rect x="932" y="631" width="3" height="2" fill="#DC143C"/>
<rect x="940" y="631" width="3" height="7" fill="#DC143C"/>
<rect x="948" y="631" width="3" height="14" fill="#DC143C"/>
<rect x="956" y="631" width="3" height="14" fill="#DC143C"/>
<rect x="964" y="631" width="3" height="2" fill="#DC143C"/>
<rect x="972" y="621" width="3" height="6" fill="#00BFFF"/>
<rect x="980" y="621" width="3" height="6" fill="#00BFFF"/>
<rect x="988" y="622" width="3" height="5" fill="#00BFFF"/>
<rect x="996" y="624" width="3" height="3" fill="#00BFFF"/>
<rect x="1068" y="631" width="3" height="2" fill="#DC143C"/>
<rect x="1076" y="631" width="3" height="2" fill="#DC143C"/>
<rect x="1108" y="631" width="3" height="3" fill="#DC143C"/>
<rect x="1116" y="631" width="3" height="9" fill="#DC143C"/>
<rect x="1124" y="631" width="3" height="13" fill="#DC143C"/>
<rect x="1132" y="631" width="3" height="12" fill="#DC143C"/>
<rect x="1140" y="631" width="3" height="6" fill="#DC143C"/>
<rect x="1148" y="624" width="3" height="3" fill="#00BFFF"/>
<rect x="1156" y="616" width="3" height="11" fill="#00BFFF"/>
<rect x="1164" y="618" width="3" height="9" fill="#00BFFF"/>
<rect x="1172" y="622" width="3" height="5" fill="#00BFFF"/>
<rect x="1260" y="624" width="3" height="3" fill="#00BFFF"/>
<rect x="1268" y="624" width="3" height="3" fill="#00BFFF"/>
<rect x="1292" y="631" width="3" height="6" fill="#DC143C"/>
<rect x="1300" y="631" width="3" height="16" fill="#DC143C"/>
<rect x="1308" y="631" width="3" height="19" fill="#DC143C"/>
<rect x="1316" y="631" width="3" height="14" fill="#DC143C"/>
<rect x="1324" y="631" width="3" height="6" fill="#DC143C"/>
<rect x="1348" y="631" width="3" height="3" fill="#DC143C"/>
<rect x="1356" y="631" width="3" height="15" fill="#DC143C"/>
<rect x="1364" y="631" width="3" height="18" fill="#DC143C"/>
<rect x="1372" y="631" width="3" height="13" fill="#DC143C"/>
<rect x="1380" y="631" width="3" height="3" fill="#DC143C"/>
<line x1="5.5" y1="629.6" x2="13.5" y2="625.0" stroke="#00BFFF" stroke-width="2.1" stroke-linecap="round"/>
<line x1="13.5" y1="625.0" x2="21.5" y2="619.0" stroke="#00BFFF" stroke-width="2.1" stroke-linecap="round"/>
<line x1="21.5" y1="619.0" x2="29.5" y2="618.4" stroke="#00BFFF" stroke-width="2.1" stroke-linecap="round"/>
<line x1="29.5" y1="618.4" x2="37.5" y2="619.4" stroke="#00BFFF" stroke-width="2.1" stroke-linecap="round"/>
<line x1="37.5" y1="619.4" x2="45.5" y2="622.6" stroke="#00BFFF" stroke-width="2.1" stroke-linecap="round"/>
<line x1="45.5" y1="622.6" x2="53.5" y2="626.0" stroke="#00BFFF" stroke-width="2.1" stroke-linecap="round"/>
<line x1="53.5" y1="626.0" x2="61.5" y2="626.4" stroke="#00BFFF" stroke-width="2.1" stroke-linecap="round"/>
<line x1="61.5" y1="626.4" x2="69.5" y2="625.4" stroke="#00BFFF" stroke-width="2.1" stroke-linecap="round"/>
<line x1="69.5" y1="625.4" x2="77.5" y2="626.4" stroke="#00BFFF" stroke-width="2.1" stroke-linecap="round"/>
<line x1="77.5" y1="626.4" x2="85.5" y2="626.2" stroke="#00BFFF" stroke-width="2.1" stroke-linecap="round"/>
<line x1="85.5" y1="626.2" x2="93.5" y2="622.0" stroke="#00BFFF" stroke-width="2.1" stroke-linecap="round"/>
<line x1="93.5" y1="622.0" x2="101.5" y2="616.4" stroke="#00BFFF" stroke-width="2.1" stroke-linecap="round"/>
<line x1="101.5" y1="616.4" x2="109.5" y2="616.4" stroke="#00BFFF" stroke-width="2.1" stroke-linecap="round"/>
<line x1="109.5" y1="616.4" x2="117.5" y2="620.0" stroke="#00BFFF" stroke-width="2.1" stroke-linecap="round"/>
<line x1="117.5" y1="620.0" x2="125.5" y2="630.0" stroke="#BEBEBE" stroke-width="2.1" stroke-linecap="round"/>
<line x1="125.5" y1="630.0" x2="133.5" y2="643.0" stroke="#DC143C" stroke-width="2.1" stroke-linecap="round"/>
<line x1="133.5" y1="643.0" x2="141.5" y2="649.0" stroke="#DC143C" stroke-width="2.1" stroke-linecap="round"/>
<line x1="141.5" y1="649.0" x2="149.5" y2="644.4" stroke="#DC143C" stroke-width="2.1" stroke-linecap="round"/>
<line x1="149.5" y1="644.4" x2="157.5" y2="637.6" stroke="#DC143C" stroke-width="2.1" stroke-linecap="round"/>
<line x1="157.5" y1="637.6" x2="165.5" y2="631.6" stroke="#DC143C" stroke-width="2.1" stroke-linecap="round"/>
<line x1="165.5" y1="631.6" x2="173.5" y2="629.4" stroke="#BEBEBE" stroke-width="2.1" stroke-linecap="round"/>
<line x1="173.5" y1="629.4" x2="181.5" y2="629.0" stroke="#BEBEBE" stroke-width="2.1" stroke-linecap="round"/>
<line x1="181.5" y1="629.0" x2="189.5" y2="629.0" stroke="#BEBEBE" stroke-width="2.1" stroke-linecap="round"/>
<line x1="189.5" y1="629.0" x2="197.5" y2="626.6" stroke="#00BFFF" stroke-width="2.1" stroke-linecap="round"/>
<line x1="197.5" y1="626.6" x2="205.5" y2="626.0" stroke="#00BFFF" stroke-width="2.1" stroke-linecap="round"/>
<line x1="205.5" y1="626.0" x2="213.5" y2="627.6" stroke="#BEBEBE" stroke-width="2.1" stroke-linecap="round"/>
<line x1="213.5" y1="627.6" x2="221.5" y2="629.2" stroke="#BEBEBE" stroke-width="2.1" stroke-linecap="round"/>
<line x1="221.5" y1="629.2" x2="229.5" y2="629.2" stroke="#BEBEBE" stroke-width="2.1" stroke-linecap="round"/>
<line x1="229.5" y1="629.2" x2="237.5" y2="629.2" stroke="#BEBEBE" stroke-width="2.1" stroke-linecap="round"/>
<line x1="237.5" y1="629.2" x2="245.5" y2="628.8" stroke="#BEBEBE" stroke-width="2.1" stroke-linecap="round"/>
<line x1="245.5" y1="628.8" x2="253.5" y2="630.0" stroke="#BEBEBE" stroke-width="2.1" stroke-linecap="round"/>
<line x1="253.5" y1="630.0" x2="261.5" y2="631.6" stroke="#DC143C" stroke-width="2.1" stroke-linecap="round"/>
<line x1="261.5" y1="631.6" x2="269.5" y2="634.4" stroke="#DC143C" stroke-width="2.1" stroke-linecap="round"/>
<line x1="269.5" y1="634.4" x2="277.5" y2="639.0" stroke="#DC143C" stroke-width="2.1" stroke-linecap="round"/>
<line x1="277.5" y1="639.0" x2="285.5" y2="644.0" stroke="#DC143C" stroke-width="2.1" stroke-linecap="round"/>
<line x1="285.5" y1="644.0" x2="293.5" y2="636.4" stroke="#DC143C" stroke-width="2.1" stroke-linecap="round"/>
<line x1="293.5" y1="636.4" x2="301.5" y2="626.4" stroke="#00BFFF" stroke-width="2.1" stroke-linecap="round"/>
<line x1="301.5" y1="626.4" x2="309.5" y2="625.0" stroke="#00BFFF" stroke-width="2.1" stroke-linecap="round"/>
<line x1="309.5" y1="625.0" x2="317.5" y2="625.6" stroke="#00BFFF" stroke-width="2.1" stroke-linecap="round"/>
<line x1="317.5" y1="625.6" x2="325.5" y2="625.6" stroke="#00BFFF" stroke-width="2.1" stroke-linecap="round"/>
<line x1="325.5" y1="625.6" x2="333.5" y2="626.0" stroke="#00BFFF" stroke-width="2.1" stroke-linecap="round"/>
<line x1="333.5" y1="626.0" x2="341.5" y2="626.8" stroke="#BEBEBE" stroke-width="2.1" stroke-linecap="round"/>
<line x1="341.5" y1="626.8" x2="349.5" y2="628.6" stroke="#BEBEBE" stroke-width="2.1" stroke-linecap="round"/>
<line x1="349.5" y1="628.6" x2="357.5" y2="634.0" stroke="#DC143C" stroke-width="2.1" stroke-linecap="round"/>
<line x1="357.5" y1="634.0" x2="365.5" y2="639.4" stroke="#DC143C" stroke-width="2.1" stroke-linecap="round"/>
<line x1="365.5" y1="639.4" x2="373.5" y2="639.6" stroke="#DC143C" stroke-width="2.1" stroke-linecap="round"/>
<line x1="373.5" y1="639.6" x2="381.5" y2="635.6" stroke="#DC143C" stroke-width="2.1" stroke-linecap="round"/>
<line x1="381.5" y1="635.6" x2="389.5" y2="631.6" stroke="#DC143C" stroke-width="2.1" stroke-linecap="round"/>
<line x1="389.5" y1="631.6" x2="397.5" y2="629.6" stroke="#BEBEBE" stroke-width="2.1" stroke-linecap="round"/>
<line x1="397.5" y1="629.6" x2="405.5" y2="628.6" stroke="#BEBEBE" stroke-width="2.1" stroke-linecap="round"/>
<line x1="405.5" y1="628.6" x2="413.5" y2="627.6" stroke="#BEBEBE" stroke-width="2.1" stroke-linecap="round"/>
<line x1="413.5" y1="627.6" x2="421.5" y2="622.4" stroke="#00BFFF" stroke-width="2.1" stroke-linecap="round"/>
<line x1="421.5" y1="622.4" x2="429.5" y2="618.0" stroke="#00BFFF" stroke-width="2.1" stroke-linecap="round"/>
<line x1="429.5" y1="618.0" x2="437.5" y2="619.0" stroke="#00BFFF" stroke-width="2.1" stroke-linecap="round"/>
<line x1="437.5" y1="619.0" x2="445.5" y2="625.0" stroke="#00BFFF" stroke-width="2.1" stroke-linecap="round"/>
<line x1="445.5" y1="625.0" x2="453.5" y2="630.4" stroke="#BEBEBE" stroke-width="2.1" stroke-linecap="round"/>
<line x1="453.5" y1="630.4" x2="461.5" y2="631.0" stroke="#DC143C" stroke-width="2.1" stroke-linecap="round"/>
<line x1="461.5" y1="631.0" x2="469.5" y2="630.4" stroke="#BEBEBE" stroke-width="2.1" stroke-linecap="round"/>
<line x1="469.5" y1="630.4" x2="477.5" y2="629.0" stroke="#BEBEBE" stroke-width="2.1" stroke-linecap="round"/>
<line x1="477.5" y1="629.0" x2="485.5" y2="629.2" stroke="#BEBEBE" stroke-width="2.1" stroke-linecap="round"/>
<line x1="485.5" y1="629.2" x2="493.5" y2="630.6" stroke="#BEBEBE" stroke-width="2.1" stroke-linecap="round"/>
<line x1="493.5" y1="630.6" x2="501.5" y2="631.0" stroke="#DC143C" stroke-width="2.1" stroke-linecap="round"/>
<line x1="501.5" y1="631.0" x2="509.5" y2="631.0" stroke="#DC143C" stroke-width="2.1" stroke-linecap="round"/>
<line x1="509.5" y1="631.0" x2="517.5" y2="630.4" stroke="#BEBEBE" stroke-width="2.1" stroke-linecap="round"/>
<line x1="517.5" y1="630.4" x2="525.5" y2="629.0" stroke="#BEBEBE" stroke-width="2.1" stroke-linecap="round"/>
<line x1="525.5" y1="629.0" x2="533.5" y2="628.4" stroke="#BEBEBE" stroke-width="2.1" stroke-linecap="round"/>
<line x1="533.5" y1="628.4" x2="541.5" y2="622.0" stroke="#00BFFF" stroke-width="2.1" stroke-linecap="round"/>
<line x1="541.5" y1="622.0" x2="549.5" y2="616.0" stroke="#00BFFF" stroke-width="2.1" stroke-linecap="round"/>
<line x1="549.5" y1="616.0" x2="557.5" y2="617.0" stroke="#00BFFF" stroke-width="2.1" stroke-linecap="round"/>
<line x1="557.5" y1="617.0" x2="565.5" y2="623.0" stroke="#00BFFF" stroke-width="2.1" stroke-linecap="round"/>
<line x1="565.5" y1="623.0" x2="573.5" y2="628.6" stroke="#BEBEBE" stroke-width="2.1" stroke-linecap="round"/>
<line x1="573.5" y1="628.6" x2="581.5" y2="629.2" stroke="#BEBEBE" stroke-width="2.1" stroke-linecap="round"/>
<line x1="581.5" y1="629.2" x2="589.5" y2="629.2" stroke="#BEBEBE" stroke-width="2.1" stroke-linecap="round"/>
<line x1="589.5" y1="629.2" x2="597.5" y2="629.2" stroke="#BEBEBE" stroke-width="2.1" stroke-linecap="round"/>
<line x1="597.5" y1="629.2" x2="605.5" y2="629.2" stroke="#BEBEBE" stroke-width="2.1" stroke-linecap="round"/>
<line x1="605.5" y1="629.2" x2="613.5" y2="629.2" stroke="#BEBEBE" stroke-width="2.1" stroke-linecap="round"/>
<line x1="613.5" y1="629.2" x2="621.5" y2="629.2" stroke="#BEBEBE" stroke-width="2.1" stroke-linecap="round"/>
<line x1="621.5" y1="629.2" x2="629.5" y2="629.2" stroke="#BEBEBE" stroke-width="2.1" stroke-linecap="round"/>
<line x1="629.5" y1="629.2" x2="637.5" y2="629.2" stroke="#BEBEBE" stroke-width="2.1" stroke-linecap="round"/>
<line x1="637.5" y1="629.2" x2="645.5" y2="629.2" stroke="#BEBEBE" stroke-width="2.1" stroke-linecap="round"/>
<line x1="645.5" y1="629.2" x2="653.5" y2="628.6" stroke="#BEBEBE" stroke-width="2.1" stroke-linecap="round"/>
<line x1="653.5" y1="628.6" x2="661.5" y2="628.2" stroke="#BEBEBE" stroke-width="2.1" stroke-linecap="round"/>
<line x1="661.5" y1="628.2" x2="669.5" y2="628.6" stroke="#BEBEBE" stroke-width="2.1" stroke-linecap="round"/>
<line x1="669.5" y1="628.6" x2="677.5" y2="629.2" stroke="#BEBEBE" stroke-width="2.1" stroke-linecap="round"/>
<line x1="677.5" y1="629.2" x2="685.5" y2="631.6" stroke="#DC143C" stroke-width="2.1" stroke-linecap="round"/>
<line x1="685.5" y1="631.6" x2="693.5" y2="631.6" stroke="#DC143C" stroke-width="2.1" stroke-linecap="round"/>
<line x1="693.5" y1="631.6" x2="701.5" y2="625.6" stroke="#00BFFF" stroke-width="2.1" stroke-linecap="round"/>
<line x1="701.5" y1="625.6" x2="709.5" y2="619.6" stroke="#00BFFF" stroke-width="2.1" stroke-linecap="round"/>
<line x1="709.5" y1="619.6" x2="717.5" y2="625.6" stroke="#00BFFF" stroke-width="2.1" stroke-linecap="round"/>
<line x1="717.5" y1="625.6" x2="725.5" y2="634.6" stroke="#DC143C" stroke-width="2.1" stroke-linecap="round"/>
<line x1="725.5" y1="634.6" x2="733.5" y2="635.0" stroke="#DC143C" stroke-width="2.1" stroke-linecap="round"/>
<line x1="733.5" y1="635.0" x2="741.5" y2="635.0" stroke="#DC143C" stroke-width="2.1" stroke-linecap="round"/>
<line x1="741.5" y1="635.0" x2="749.5" y2="635.0" stroke="#DC143C" stroke-width="2.1" stroke-linecap="round"/>
<line x1="749.5" y1="635.0" x2="757.5" y2="639.0" stroke="#DC143C" stroke-width="2.1" stroke-linecap="round"/>
<line x1="757.5" y1="639.0" x2="765.5" y2="647.0" stroke="#DC143C" stroke-width="2.1" stroke-linecap="round"/>
<line x1="765.5" y1="647.0" x2="773.5" y2="654.4" stroke="#DC143C" stroke-width="2.1" stroke-linecap="round"/>
<line x1="773.5" y1="654.4" x2="781.5" y2="654.4" stroke="#DC143C" stroke-width="2.1" stroke-linecap="round"/>
<line x1="781.5" y1="654.4" x2="789.5" y2="640.0" stroke="#DC143C" stroke-width="2.1" stroke-linecap="round"/>
<line x1="789.5" y1="640.0" x2="797.5" y2="624.0" stroke="#00BFFF" stroke-width="2.1" stroke-linecap="round"/>
<line x1="797.5" y1="624.0" x2="805.5" y2="621.4" stroke="#00BFFF" stroke-width="2.1" stroke-linecap="round"/>
<line x1="805.5" y1="621.4" x2="813.5" y2="623.6" stroke="#00BFFF" stroke-width="2.1" stroke-linecap="round"/>
<line x1="813.5" y1="623.6" x2="821.5" y2="626.0" stroke="#00BFFF" stroke-width="2.1" stroke-linecap="round"/>
<line x1="821.5" y1="626.0" x2="829.5" y2="629.2" stroke="#BEBEBE" stroke-width="2.1" stroke-linecap="round"/>
<line x1="829.5" y1="629.2" x2="837.5" y2="629.2" stroke="#BEBEBE" stroke-width="2.1" stroke-linecap="round"/>
<line x1="837.5" y1="629.2" x2="845.5" y2="629.2" stroke="#BEBEBE" stroke-width="2.1" stroke-linecap="round"/>
<line x1="845.5" y1="629.2" x2="853.5" y2="629.2" stroke="#BEBEBE" stroke-width="2.1" stroke-linecap="round"/>
<line x1="853.5" y1="629.2" x2="861.5" y2="629.2" stroke="#BEBEBE" stroke-width="2.1" stroke-linecap="round"/>
<line x1="861.5" y1="629.2" x2="869.5" y2="629.2" stroke="#BEBEBE" stroke-width="2.1" stroke-linecap="round"/>
<line x1="869.5" y1="629.2" x2="877.5" y2="629.2" stroke="#BEBEBE" stroke-width="2.1" stroke-linecap="round"/>
<line x1="877.5" y1="629.2" x2="885.5" y2="628.6" stroke="#BEBEBE" stroke-width="2.1" stroke-linecap="round"/>
<line x1="885.5" y1="628.6" x2="893.5" y2="623.6" stroke="#00BFFF" stroke-width="2.1" stroke-linecap="round"/>
<line x1="893.5" y1="623.6" x2="901.5" y2="615.6" stroke="#00BFFF" stroke-width="2.1" stroke-linecap="round"/>
<line x1="901.5" y1="615.6" x2="909.5" y2="619.0" stroke="#00BFFF" stroke-width="2.1" stroke-linecap="round"/>
<line x1="909.5" y1="619.0" x2="917.5" y2="625.6" stroke="#00BFFF" stroke-width="2.1" stroke-linecap="round"/>
<line x1="917.5" y1="625.6" x2="925.5" y2="629.6" stroke="#BEBEBE" stroke-width="2.1" stroke-linecap="round"/>
<line x1="925.5" y1="629.6" x2="933.5" y2="631.6" stroke="#DC143C" stroke-width="2.1" stroke-linecap="round"/>
<line x1="933.5" y1="631.6" x2="941.5" y2="637.0" stroke="#DC143C" stroke-width="2.1" stroke-linecap="round"/>
<line x1="941.5" y1="637.0" x2="949.5" y2="644.0" stroke="#DC143C" stroke-width="2.1" stroke-linecap="round"/>
<line x1="949.5" y1="644.0" x2="957.5" y2="644.0" stroke="#DC143C" stroke-width="2.1" stroke-linecap="round"/>
<line x1="957.5" y1="644.0" x2="965.5" y2="632.0" stroke="#DC143C" stroke-width="2.1" stroke-linecap="round"/>
<line x1="965.5" y1="632.0" x2="973.5" y2="621.0" stroke="#00BFFF" stroke-width="2.1" stroke-linecap="round"/>
<line x1="973.5" y1="621.0" x2="981.5" y2="620.6" stroke="#00BFFF" stroke-width="2.1" stroke-linecap="round"/>
<line x1="981.5" y1="620.6" x2="989.5" y2="622.4" stroke="#00BFFF" stroke-width="2.1" stroke-linecap="round"/>
<line x1="989.5" y1="622.4" x2="997.5" y2="624.4" stroke="#00BFFF" stroke-width="2.1" stroke-linecap="round"/>
<line x1="997.5" y1="624.4" x2="1005.5" y2="626.4" stroke="#00BFFF" stroke-width="2.1" stroke-linecap="round"/>
<line x1="1005.5" y1="626.4" x2="1013.5" y2="628.0" stroke="#BEBEBE" stroke-width="2.1" stroke-linecap="round"/>
<line x1="1013.5" y1="628.0" x2="1021.5" y2="629.2" stroke="#BEBEBE" stroke-width="2.1" stroke-linecap="round"/>
<line x1="1021.5" y1="629.2" x2="1029.5" y2="629.2" stroke="#BEBEBE" stroke-width="2.1" stroke-linecap="round"/>
<line x1="1029.5" y1="629.2" x2="1037.5" y2="629.2" stroke="#BEBEBE" stroke-width="2.1" stroke-linecap="round"/>
<line x1="1037.5" y1="629.2" x2="1045.5" y2="629.2" stroke="#BEBEBE" stroke-width="2.1" stroke-linecap="round"/>
<line x1="1045.5" y1="629.2" x2="1053.5" y2="629.6" stroke="#BEBEBE" stroke-width="2.1" stroke-linecap="round"/>
<line x1="1053.5" y1="629.6" x2="1061.5" y2="631.0" stroke="#DC143C" stroke-width="2.1" stroke-linecap="round"/>
<line x1="1061.5" y1="631.0" x2="1069.5" y2="632.0" stroke="#DC143C" stroke-width="2.1" stroke-linecap="round"/>
<line x1="1069.5" y1="632.0" x2="1077.5" y2="631.6" stroke="#DC143C" stroke-width="2.1" stroke-linecap="round"/>
<line x1="1077.5" y1="631.6" x2="1085.5" y2="630.4" stroke="#BEBEBE" stroke-width="2.1" stroke-linecap="round"/>
<line x1="1085.5" y1="630.4" x2="1093.5" y2="629.4" stroke="#BEBEBE" stroke-width="2.1" stroke-linecap="round"/>
<line x1="1093.5" y1="629.4" x2="1101.5" y2="629.4" stroke="#BEBEBE" stroke-width="2.1" stroke-linecap="round"/>
<line x1="1101.5" y1="629.4" x2="1109.5" y2="633.0" stroke="#DC143C" stroke-width="2.1" stroke-linecap="round"/>
<line x1="1109.5" y1="633.0" x2="1117.5" y2="639.0" stroke="#DC143C" stroke-width="2.1" stroke-linecap="round"/>
<line x1="1117.5" y1="639.0" x2="1125.5" y2="643.0" stroke="#DC143C" stroke-width="2.1" stroke-linecap="round"/>
<line x1="1125.5" y1="643.0" x2="1133.5" y2="641.6" stroke="#DC143C" stroke-width="2.1" stroke-linecap="round"/>
<line x1="1133.5" y1="641.6" x2="1141.5" y2="636.0" stroke="#DC143C" stroke-width="2.1" stroke-linecap="round"/>
<line x1="1141.5" y1="636.0" x2="1149.5" y2="624.0" stroke="#00BFFF" stroke-width="2.1" stroke-linecap="round"/>
<line x1="1149.5" y1="624.0" x2="1157.5" y2="615.6" stroke="#00BFFF" stroke-width="2.1" stroke-linecap="round"/>
<line x1="1157.5" y1="615.6" x2="1165.5" y2="617.6" stroke="#00BFFF" stroke-width="2.1" stroke-linecap="round"/>
<line x1="1165.5" y1="617.6" x2="1173.5" y2="622.4" stroke="#00BFFF" stroke-width="2.1" stroke-linecap="round"/>
<line x1="1173.5" y1="622.4" x2="1181.5" y2="626.4" stroke="#00BFFF" stroke-width="2.1" stroke-linecap="round"/>
<line x1="1181.5" y1="626.4" x2="1189.5" y2="628.8" stroke="#BEBEBE" stroke-width="2.1" stroke-linecap="round"/>
<line x1="1189.5" y1="628.8" x2="1197.5" y2="629.2" stroke="#BEBEBE" stroke-width="2.1" stroke-linecap="round"/>
<line x1="1197.5" y1="629.2" x2="1205.5" y2="628.8" stroke="#BEBEBE" stroke-width="2.1" stroke-linecap="round"/>
<line x1="1205.5" y1="628.8" x2="1213.5" y2="627.0" stroke="#BEBEBE" stroke-width="2.1" stroke-linecap="round"/>
<line x1="1213.5" y1="627.0" x2="1221.5" y2="626.6" stroke="#00BFFF" stroke-width="2.1" stroke-linecap="round"/>
<line x1="1221.5" y1="626.6" x2="1229.5" y2="629.2" stroke="#BEBEBE" stroke-width="2.1" stroke-linecap="round"/>
<line x1="1229.5" y1="629.2" x2="1237.5" y2="631.2" stroke="#DC143C" stroke-width="2.1" stroke-linecap="round"/>
<line x1="1237.5" y1="631.2" x2="1245.5" y2="630.4" stroke="#BEBEBE" stroke-width="2.1" stroke-linecap="round"/>
<line x1="1245.5" y1="630.4" x2="1253.5" y2="626.0" stroke="#00BFFF" stroke-width="2.1" stroke-linecap="round"/>
<line x1="1253.5" y1="626.0" x2="1261.5" y2="624.0" stroke="#00BFFF" stroke-width="2.1" stroke-linecap="round"/>
<line x1="1261.5" y1="624.0" x2="1269.5" y2="624.4" stroke="#00BFFF" stroke-width="2.1" stroke-linecap="round"/>
<line x1="1269.5" y1="624.4" x2="1277.5" y2="626.0" stroke="#00BFFF" stroke-width="2.1" stroke-linecap="round"/>
<line x1="1277.5" y1="626.0" x2="1285.5" y2="630.0" stroke="#BEBEBE" stroke-width="2.1" stroke-linecap="round"/>
<line x1="1285.5" y1="630.0" x2="1293.5" y2="636.0" stroke="#DC143C" stroke-width="2.1" stroke-linecap="round"/>
<line x1="1293.5" y1="636.0" x2="1301.5" y2="646.0" stroke="#DC143C" stroke-width="2.1" stroke-linecap="round"/>
<line x1="1301.5" y1="646.0" x2="1309.5" y2="649.0" stroke="#DC143C" stroke-width="2.1" stroke-linecap="round"/>
<line x1="1309.5" y1="649.0" x2="1317.5" y2="643.6" stroke="#DC143C" stroke-width="2.1" stroke-linecap="round"/>
<line x1="1317.5" y1="643.6" x2="1325.5" y2="635.6" stroke="#DC143C" stroke-width="2.1" stroke-linecap="round"/>
<line x1="1325.5" y1="635.6" x2="1333.5" y2="629.0" stroke="#BEBEBE" stroke-width="2.1" stroke-linecap="round"/>
<line x1="1333.5" y1="629.0" x2="1341.5" y2="626.0" stroke="#00BFFF" stroke-width="2.1" stroke-linecap="round"/>
<line x1="1341.5" y1="626.0" x2="1349.5" y2="633.0" stroke="#DC143C" stroke-width="2.1" stroke-linecap="round"/>
<line x1="1349.5" y1="633.0" x2="1357.5" y2="645.0" stroke="#DC143C" stroke-width="2.1" stroke-linecap="round"/>
<line x1="1357.5" y1="645.0" x2="1365.5" y2="648.4" stroke="#DC143C" stroke-width="2.1" stroke-linecap="round"/>
<line x1="1365.5" y1="648.4" x2="1373.5" y2="643.0" stroke="#DC143C" stroke-width="2.1" stroke-linecap="round"/>
<line x1="1373.5" y1="643.0" x2="1381.5" y2="633.0" stroke="#DC143C" stroke-width="2.1" stroke-linecap="round"/>
<line x1="1381.5" y1="633.0" x2="1389.5" y2="627.6" stroke="#BEBEBE" stroke-width="2.1" stroke-linecap="round"/>
<line x1="1389.5" y1="627.6" x2="1397.5" y2="626.0" stroke="#00BFFF" stroke-width="2.1" stroke-linecap="round"/>
</g>
<text transform="translate(1570.0,604.5) scale(0.912,1)" font-size="10.0" fill="#DADADA" >1.05</text>
<text transform="translate(1570.0,631.5) scale(0.912,1)" font-size="10.0" fill="#DADADA" >0.00</text>
<text transform="translate(1570.0,660.5) scale(0.912,1)" font-size="10.0" fill="#DADADA" >-1.05</text>
<rect x="1567" y="628" width="1" height="1" fill="#C8C8C8"/>
<g clip-path="url(#c2)" shape-rendering="crispEdges">
<rect x="2" y="666" width="7" height="13" fill="#DC143C"/>
<rect x="10" y="666" width="7" height="13" fill="#1E90FF"/>
<rect x="18" y="666" width="7" height="13" fill="#1E90FF"/>
<rect x="26" y="666" width="7" height="13" fill="#1E90FF"/>
<rect x="34" y="666" width="7" height="13" fill="#1E90FF"/>
<rect x="42" y="666" width="7" height="13" fill="#1E90FF"/>
<rect x="50" y="666" width="7" height="13" fill="#1E90FF"/>
<rect x="58" y="666" width="7" height="13" fill="#1E90FF"/>
<rect x="66" y="666" width="7" height="13" fill="#1E90FF"/>
<rect x="74" y="666" width="7" height="13" fill="#1E90FF"/>
<rect x="82" y="666" width="7" height="13" fill="#1E90FF"/>
<rect x="90" y="666" width="7" height="13" fill="#1E90FF"/>
<rect x="98" y="666" width="7" height="13" fill="#1E90FF"/>
<rect x="106" y="666" width="7" height="13" fill="#1E90FF"/>
<rect x="114" y="666" width="7" height="13" fill="#1E90FF"/>
<rect x="122" y="666" width="7" height="13" fill="#DC143C"/>
<rect x="130" y="666" width="7" height="13" fill="#DC143C"/>
<rect x="138" y="666" width="7" height="13" fill="#DC143C"/>
<rect x="146" y="666" width="7" height="13" fill="#DC143C"/>
<rect x="154" y="666" width="7" height="13" fill="#DC143C"/>
<rect x="162" y="666" width="7" height="13" fill="#DC143C"/>
<rect x="170" y="666" width="7" height="13" fill="#DC143C"/>
<rect x="178" y="666" width="7" height="13" fill="#DC143C"/>
<rect x="186" y="666" width="7" height="13" fill="#DC143C"/>
<rect x="194" y="666" width="7" height="13" fill="#1E90FF"/>
<rect x="202" y="666" width="7" height="13" fill="#1E90FF"/>
<rect x="210" y="666" width="7" height="13" fill="#1E90FF"/>
<rect x="218" y="666" width="7" height="13" fill="#DC143C"/>
<rect x="226" y="666" width="7" height="13" fill="#DC143C"/>
<rect x="234" y="666" width="7" height="13" fill="#1E90FF"/>
<rect x="242" y="666" width="7" height="13" fill="#1E90FF"/>
<rect x="250" y="666" width="7" height="13" fill="#DC143C"/>
<rect x="258" y="666" width="7" height="13" fill="#DC143C"/>
<rect x="266" y="666" width="7" height="13" fill="#DC143C"/>
<rect x="274" y="666" width="7" height="13" fill="#DC143C"/>
<rect x="282" y="666" width="7" height="13" fill="#DC143C"/>
<rect x="290" y="666" width="7" height="13" fill="#DC143C"/>
<rect x="298" y="666" width="7" height="13" fill="#DC143C"/>
<rect x="306" y="666" width="7" height="13" fill="#DC143C"/>
<rect x="314" y="666" width="7" height="13" fill="#1E90FF"/>
<rect x="322" y="666" width="7" height="13" fill="#1E90FF"/>
<rect x="330" y="666" width="7" height="13" fill="#1E90FF"/>
<rect x="338" y="666" width="7" height="13" fill="#1E90FF"/>
<rect x="346" y="666" width="7" height="13" fill="#1E90FF"/>
<rect x="354" y="666" width="7" height="13" fill="#DC143C"/>
<rect x="362" y="666" width="7" height="13" fill="#DC143C"/>
<rect x="370" y="666" width="7" height="13" fill="#DC143C"/>
<rect x="378" y="666" width="7" height="13" fill="#DC143C"/>
<rect x="386" y="666" width="7" height="13" fill="#DC143C"/>
<rect x="394" y="666" width="7" height="13" fill="#1E90FF"/>
<rect x="402" y="666" width="7" height="13" fill="#1E90FF"/>
<rect x="410" y="666" width="7" height="13" fill="#1E90FF"/>
<rect x="418" y="666" width="7" height="13" fill="#1E90FF"/>
<rect x="426" y="666" width="7" height="13" fill="#1E90FF"/>
<rect x="434" y="666" width="7" height="13" fill="#1E90FF"/>
<rect x="442" y="666" width="7" height="13" fill="#DC143C"/>
<rect x="450" y="666" width="7" height="13" fill="#DC143C"/>
<rect x="458" y="666" width="7" height="13" fill="#1E90FF"/>
<rect x="466" y="666" width="7" height="13" fill="#1E90FF"/>
<rect x="474" y="666" width="7" height="13" fill="#1E90FF"/>
<rect x="482" y="666" width="7" height="13" fill="#1E90FF"/>
<rect x="490" y="666" width="7" height="13" fill="#DC143C"/>
<rect x="498" y="666" width="7" height="13" fill="#DC143C"/>
<rect x="506" y="666" width="7" height="13" fill="#DC143C"/>
<rect x="514" y="666" width="7" height="13" fill="#1E90FF"/>
<rect x="522" y="666" width="7" height="13" fill="#1E90FF"/>
<rect x="530" y="666" width="7" height="13" fill="#1E90FF"/>
<rect x="538" y="666" width="7" height="13" fill="#1E90FF"/>
<rect x="546" y="666" width="7" height="13" fill="#1E90FF"/>
<rect x="554" y="666" width="7" height="13" fill="#1E90FF"/>
<rect x="562" y="666" width="7" height="13" fill="#1E90FF"/>
<rect x="570" y="666" width="7" height="13" fill="#1E90FF"/>
<rect x="578" y="666" width="7" height="13" fill="#1E90FF"/>
<rect x="586" y="666" width="7" height="13" fill="#1E90FF"/>
<rect x="594" y="666" width="7" height="13" fill="#1E90FF"/>
<rect x="602" y="666" width="7" height="13" fill="#1E90FF"/>
<rect x="610" y="666" width="7" height="13" fill="#1E90FF"/>
<rect x="618" y="666" width="7" height="13" fill="#1E90FF"/>
<rect x="626" y="666" width="7" height="13" fill="#1E90FF"/>
<rect x="634" y="666" width="7" height="13" fill="#DC143C"/>
<rect x="642" y="666" width="7" height="13" fill="#1E90FF"/>
<rect x="650" y="666" width="7" height="13" fill="#1E90FF"/>
<rect x="658" y="666" width="7" height="13" fill="#1E90FF"/>
<rect x="666" y="666" width="7" height="13" fill="#DC143C"/>
<rect x="674" y="666" width="7" height="13" fill="#DC143C"/>
<rect x="682" y="666" width="7" height="13" fill="#DC143C"/>
<rect x="690" y="666" width="7" height="13" fill="#DC143C"/>
<rect x="698" y="666" width="7" height="13" fill="#1E90FF"/>
<rect x="706" y="666" width="7" height="13" fill="#1E90FF"/>
<rect x="714" y="666" width="7" height="13" fill="#DC143C"/>
<rect x="722" y="666" width="7" height="13" fill="#1E90FF"/>
<rect x="730" y="666" width="7" height="13" fill="#DC143C"/>
<rect x="738" y="666" width="7" height="13" fill="#DC143C"/>
<rect x="746" y="666" width="7" height="13" fill="#DC143C"/>
<rect x="754" y="666" width="7" height="13" fill="#DC143C"/>
<rect x="762" y="666" width="7" height="13" fill="#DC143C"/>
<rect x="770" y="666" width="7" height="13" fill="#DC143C"/>
<rect x="778" y="666" width="7" height="13" fill="#DC143C"/>
<rect x="786" y="666" width="7" height="13" fill="#DC143C"/>
<rect x="794" y="666" width="7" height="13" fill="#1E90FF"/>
<rect x="802" y="666" width="7" height="13" fill="#DC143C"/>
<rect x="810" y="666" width="7" height="13" fill="#DC143C"/>
<rect x="818" y="666" width="7" height="13" fill="#DC143C"/>
<rect x="826" y="666" width="7" height="13" fill="#DC143C"/>
<rect x="834" y="666" width="7" height="13" fill="#DC143C"/>
<rect x="842" y="666" width="7" height="13" fill="#DC143C"/>
<rect x="850" y="666" width="7" height="13" fill="#DC143C"/>
<rect x="858" y="666" width="7" height="13" fill="#1E90FF"/>
<rect x="866" y="666" width="7" height="13" fill="#DC143C"/>
<rect x="874" y="666" width="7" height="13" fill="#DC143C"/>
<rect x="882" y="666" width="7" height="13" fill="#DC143C"/>
<rect x="890" y="666" width="7" height="13" fill="#1E90FF"/>
<rect x="898" y="666" width="7" height="13" fill="#1E90FF"/>
<rect x="906" y="666" width="7" height="13" fill="#DC143C"/>
<rect x="914" y="666" width="7" height="13" fill="#1E90FF"/>
<rect x="922" y="666" width="7" height="13" fill="#DC143C"/>
<rect x="930" y="666" width="7" height="13" fill="#DC143C"/>
<rect x="938" y="666" width="7" height="13" fill="#DC143C"/>
<rect x="946" y="666" width="7" height="13" fill="#DC143C"/>
<rect x="954" y="666" width="7" height="13" fill="#DC143C"/>
<rect x="962" y="666" width="7" height="13" fill="#1E90FF"/>
<rect x="970" y="666" width="7" height="13" fill="#1E90FF"/>
<rect x="978" y="666" width="7" height="13" fill="#1E90FF"/>
<rect x="986" y="666" width="7" height="13" fill="#1E90FF"/>
<rect x="994" y="666" width="7" height="13" fill="#1E90FF"/>
<rect x="1002" y="666" width="7" height="13" fill="#1E90FF"/>
<rect x="1010" y="666" width="7" height="13" fill="#1E90FF"/>
<rect x="1018" y="666" width="7" height="13" fill="#1E90FF"/>
<rect x="1026" y="666" width="7" height="13" fill="#1E90FF"/>
<rect x="1034" y="666" width="7" height="13" fill="#DC143C"/>
<rect x="1042" y="666" width="7" height="13" fill="#1E90FF"/>
<rect x="1050" y="666" width="7" height="13" fill="#DC143C"/>
<rect x="1058" y="666" width="7" height="13" fill="#DC143C"/>
<rect x="1066" y="666" width="7" height="13" fill="#DC143C"/>
<rect x="1074" y="666" width="7" height="13" fill="#DC143C"/>
<rect x="1082" y="666" width="7" height="13" fill="#DC143C"/>
<rect x="1090" y="666" width="7" height="13" fill="#1E90FF"/>
<rect x="1098" y="666" width="7" height="13" fill="#DC143C"/>
<rect x="1106" y="666" width="7" height="13" fill="#DC143C"/>
<rect x="1114" y="666" width="7" height="13" fill="#DC143C"/>
<rect x="1122" y="666" width="7" height="13" fill="#DC143C"/>
<rect x="1130" y="666" width="7" height="13" fill="#DC143C"/>
<rect x="1138" y="666" width="7" height="13" fill="#DC143C"/>
<rect x="1146" y="666" width="7" height="13" fill="#1E90FF"/>
<rect x="1154" y="666" width="7" height="13" fill="#1E90FF"/>
<rect x="1162" y="666" width="7" height="13" fill="#DC143C"/>
<rect x="1170" y="666" width="7" height="13" fill="#1E90FF"/>
<rect x="1178" y="666" width="7" height="13" fill="#1E90FF"/>
<rect x="1186" y="666" width="7" height="13" fill="#1E90FF"/>
<rect x="1194" y="666" width="7" height="13" fill="#1E90FF"/>
<rect x="1202" y="666" width="7" height="13" fill="#1E90FF"/>
<rect x="1210" y="666" width="7" height="13" fill="#1E90FF"/>
<rect x="1218" y="666" width="7" height="13" fill="#1E90FF"/>
<rect x="1226" y="666" width="7" height="13" fill="#DC143C"/>
<rect x="1234" y="666" width="7" height="13" fill="#DC143C"/>
<rect x="1242" y="666" width="7" height="13" fill="#1E90FF"/>
<rect x="1250" y="666" width="7" height="13" fill="#1E90FF"/>
<rect x="1258" y="666" width="7" height="13" fill="#1E90FF"/>
<rect x="1266" y="666" width="7" height="13" fill="#DC143C"/>
<rect x="1274" y="666" width="7" height="13" fill="#1E90FF"/>
<rect x="1282" y="666" width="7" height="13" fill="#DC143C"/>
<rect x="1290" y="666" width="7" height="13" fill="#DC143C"/>
<rect x="1298" y="666" width="7" height="13" fill="#DC143C"/>
<rect x="1306" y="666" width="7" height="13" fill="#DC143C"/>
<rect x="1314" y="666" width="7" height="13" fill="#DC143C"/>
<rect x="1322" y="666" width="7" height="13" fill="#1E90FF"/>
<rect x="1330" y="666" width="7" height="13" fill="#DC143C"/>
<rect x="1338" y="666" width="7" height="13" fill="#1E90FF"/>
<rect x="1346" y="666" width="7" height="13" fill="#DC143C"/>
<rect x="1354" y="666" width="7" height="13" fill="#DC143C"/>
<rect x="1362" y="666" width="7" height="13" fill="#DC143C"/>
<rect x="1370" y="666" width="7" height="13" fill="#DC143C"/>
<rect x="1378" y="666" width="7" height="13" fill="#1E90FF"/>
<rect x="1386" y="666" width="7" height="13" fill="#1E90FF"/>
<rect x="1394" y="666" width="7" height="13" fill="#1E90FF"/>
</g>
<text x="1570.5" y="676.0" font-size="10.0" fill="#C4C4C4" textLength="35.0" lengthAdjust="spacingAndGlyphs" >70.9539</text>
<text x="1570.5" y="678.0" font-size="10.0" fill="#C4C4C4" textLength="35.0" lengthAdjust="spacingAndGlyphs" >30.0629</text>
<text x="1570.5" y="678.0" font-size="10.0" fill="#C4C4C4" textLength="30.0" lengthAdjust="spacingAndGlyphs" >0.0000</text>
<text x="1570.5" y="676.0" font-size="10.0" fill="#C4C4C4" textLength="30.0" lengthAdjust="spacingAndGlyphs" >100.00</text>
<rect x="1567" y="662" width="1" height="1" fill="#C8C8C8"/>
<rect x="1567" y="667" width="1" height="1" fill="#C8C8C8"/>
<rect x="1567" y="674" width="1" height="1" fill="#C8C8C8"/>
<rect x="1567" y="679" width="1" height="1" fill="#C8C8C8"/>
<rect x="1567" y="684" width="1" height="1" fill="#C8C8C8"/>
<g clip-path="url(#c3)" shape-rendering="crispEdges">
<rect x="20" y="719" width="3" height="1" fill="#00BFFF"/>
<rect x="28" y="715" width="3" height="5" fill="#00BFFF"/>
<rect x="36" y="711" width="3" height="9" fill="#00BFFF"/>
<rect x="44" y="708" width="3" height="12" fill="#00BFFF"/>
<rect x="52" y="705" width="3" height="15" fill="#00BFFF"/>
<rect x="60" y="703" width="3" height="17" fill="#00BFFF"/>
<rect x="68" y="699" width="3" height="21" fill="#00BFFF"/>
<rect x="77" y="699" width="1" height="21" fill="#00BFFF"/>
<rect x="84" y="698" width="3" height="22" fill="#00BFFF"/>
<rect x="92" y="697" width="3" height="23" fill="#00BFFF"/>
<rect x="100" y="694" width="3" height="26" fill="#00BFFF"/>
<rect x="108" y="690" width="3" height="30" fill="#00BFFF"/>
<rect x="116" y="688" width="3" height="32" fill="#00BFFF"/>
<rect x="125" y="694" width="1" height="26" fill="#00BFFF"/>
<rect x="133" y="704" width="1" height="16" fill="#00BFFF"/>
<rect x="141" y="712" width="1" height="8" fill="#00BFFF"/>
<rect x="149" y="717" width="1" height="3" fill="#00BFFF"/>
<rect x="164" y="721" width="3" height="4" fill="#DC143C"/>
<rect x="172" y="721" width="3" height="7" fill="#DC143C"/>
<rect x="180" y="721" width="3" height="10" fill="#DC143C"/>
<rect x="188" y="721" width="3" height="13" fill="#DC143C"/>
<rect x="197" y="721" width="1" height="12" fill="#DC143C"/>
<rect x="205" y="721" width="1" height="7" fill="#DC143C"/>
<rect x="213" y="721" width="1" height="2" fill="#DC143C"/>
<rect x="221" y="721" width="1" height="1" fill="#DC143C"/>
<rect x="229" y="721" width="1" height="1" fill="#DC143C"/>
<rect x="244" y="718" width="3" height="2" fill="#00BFFF"/>
<rect x="253" y="718" width="1" height="2" fill="#00BFFF"/>
<rect x="268" y="721" width="3" height="3" fill="#DC143C"/>
<rect x="276" y="721" width="3" height="7" fill="#DC143C"/>
<rect x="284" y="721" width="3" height="11" fill="#DC143C"/>
<rect x="292" y="721" width="3" height="11" fill="#DC143C"/>
<rect x="301" y="721" width="1" height="11" fill="#DC143C"/>
<rect x="309" y="721" width="1" height="10" fill="#DC143C"/>
<rect x="317" y="721" width="1" height="9" fill="#DC143C"/>
<rect x="325" y="721" width="1" height="8" fill="#DC143C"/>
<rect x="333" y="721" width="1" height="4" fill="#DC143C"/>
<rect x="348" y="716" width="3" height="4" fill="#00BFFF"/>
<rect x="356" y="714" width="3" height="6" fill="#00BFFF"/>
<rect x="365" y="719" width="1" height="1" fill="#00BFFF"/>
<rect x="372" y="721" width="3" height="2" fill="#DC143C"/>
<rect x="380" y="721" width="3" height="5" fill="#DC143C"/>
<rect x="388" y="721" width="3" height="7" fill="#DC143C"/>
<rect x="397" y="721" width="1" height="7" fill="#DC143C"/>
<rect x="405" y="721" width="1" height="5" fill="#DC143C"/>
<rect x="413" y="721" width="1" height="5" fill="#DC143C"/>
<rect x="428" y="717" width="3" height="3" fill="#00BFFF"/>
<rect x="436" y="714" width="3" height="6" fill="#00BFFF"/>
<rect x="444" y="713" width="3" height="7" fill="#00BFFF"/>
<rect x="452" y="713" width="3" height="7" fill="#00BFFF"/>
<rect x="461" y="714" width="1" height="6" fill="#00BFFF"/>
<rect x="469" y="714" width="1" height="6" fill="#00BFFF"/>
<rect x="477" y="714" width="1" height="6" fill="#00BFFF"/>
<rect x="485" y="714" width="1" height="6" fill="#00BFFF"/>
<rect x="493" y="715" width="1" height="5" fill="#00BFFF"/>
<rect x="508" y="721" width="3" height="3" fill="#DC143C"/>
<rect x="516" y="721" width="3" height="3" fill="#DC143C"/>
<rect x="525" y="721" width="1" height="3" fill="#DC143C"/>
<rect x="540" y="718" width="3" height="2" fill="#00BFFF"/>
<rect x="548" y="714" width="3" height="6" fill="#00BFFF"/>
<rect x="556" y="710" width="3" height="10" fill="#00BFFF"/>
<rect x="564" y="710" width="3" height="10" fill="#00BFFF"/>
<rect x="573" y="710" width="1" height="10" fill="#00BFFF"/>
<rect x="580" y="710" width="3" height="10" fill="#00BFFF"/>
<rect x="588" y="707" width="3" height="13" fill="#00BFFF"/>
<rect x="596" y="705" width="3" height="15" fill="#00BFFF"/>
<rect x="604" y="704" width="3" height="16" fill="#00BFFF"/>
<rect x="612" y="703" width="3" height="17" fill="#00BFFF"/>
<rect x="621" y="704" width="1" height="16" fill="#00BFFF"/>
<rect x="629" y="705" width="1" height="15" fill="#00BFFF"/>
<rect x="637" y="707" width="1" height="13" fill="#00BFFF"/>
<rect x="645" y="708" width="1" height="12" fill="#00BFFF"/>
<rect x="653" y="709" width="1" height="11" fill="#00BFFF"/>
<rect x="660" y="708" width="3" height="12" fill="#00BFFF"/>
<rect x="668" y="706" width="3" height="14" fill="#00BFFF"/>
<rect x="677" y="712" width="1" height="8" fill="#00BFFF"/>
<rect x="685" y="717" width="1" height="3" fill="#00BFFF"/>
<rect x="700" y="721" width="3" height="4" fill="#DC143C"/>
<rect x="708" y="721" width="3" height="7" fill="#DC143C"/>
<rect x="716" y="721" width="3" height="9" fill="#DC143C"/>
<rect x="724" y="721" width="3" height="11" fill="#DC143C"/>
<rect x="732" y="721" width="3" height="12" fill="#DC143C"/>
<rect x="740" y="721" width="3" height="13" fill="#DC143C"/>
<rect x="748" y="721" width="3" height="16" fill="#DC143C"/>
<rect x="756" y="721" width="3" height="19" fill="#DC143C"/>
<rect x="764" y="721" width="3" height="22" fill="#DC143C"/>
<rect x="772" y="721" width="3" height="25" fill="#DC143C"/>
<rect x="780" y="721" width="3" height="29" fill="#DC143C"/>
<rect x="789" y="721" width="1" height="22" fill="#DC143C"/>
<rect x="797" y="721" width="1" height="17" fill="#DC143C"/>
<rect x="805" y="721" width="1" height="13" fill="#DC143C"/>
<rect x="813" y="721" width="1" height="12" fill="#DC143C"/>
<rect x="821" y="721" width="1" height="11" fill="#DC143C"/>
<rect x="829" y="721" width="1" height="11" fill="#DC143C"/>
<rect x="836" y="721" width="3" height="14" fill="#DC143C"/>
<rect x="844" y="721" width="3" height="18" fill="#DC143C"/>
<rect x="852" y="721" width="3" height="21" fill="#DC143C"/>
<rect x="861" y="721" width="1" height="17" fill="#DC143C"/>
<rect x="869" y="721" width="1" height="15" fill="#DC143C"/>
<rect x="877" y="721" width="1" height="15" fill="#DC143C"/>
<rect x="884" y="721" width="3" height="16" fill="#DC143C"/>
<rect x="893" y="721" width="1" height="12" fill="#DC143C"/>
<rect x="901" y="721" width="1" height="5" fill="#DC143C"/>
<rect x="916" y="719" width="3" height="1" fill="#00BFFF"/>
<rect x="924" y="717" width="3" height="3" fill="#00BFFF"/>
<rect x="933" y="717" width="1" height="3" fill="#00BFFF"/>
<rect x="948" y="721" width="3" height="2" fill="#DC143C"/>
<rect x="956" y="721" width="3" height="5" fill="#DC143C"/>
<rect x="964" y="721" width="3" height="6" fill="#DC143C"/>
<rect x="973" y="721" width="1" height="5" fill="#DC143C"/>
<rect x="981" y="721" width="1" height="2" fill="#DC143C"/>
<rect x="996" y="716" width="3" height="4" fill="#00BFFF"/>
<rect x="1004" y="711" width="3" height="9" fill="#00BFFF"/>
<rect x="1012" y="707" width="3" height="13" fill="#00BFFF"/>
<rect x="1020" y="705" width="3" height="15" fill="#00BFFF"/>
<rect x="1028" y="704" width="3" height="16" fill="#00BFFF"/>
<rect x="1036" y="703" width="3" height="17" fill="#00BFFF"/>
<rect x="1045" y="703" width="1" height="17" fill="#00BFFF"/>
<rect x="1053" y="706" width="1" height="14" fill="#00BFFF"/>
<rect x="1061" y="710" width="1" height="10" fill="#00BFFF"/>
<rect x="1069" y="716" width="1" height="4" fill="#00BFFF"/>
<rect x="1084" y="721" width="3" height="5" fill="#DC143C"/>
<rect x="1092" y="721" width="3" height="9" fill="#DC143C"/>
<rect x="1100" y="721" width="3" height="10" fill="#DC143C"/>
<rect x="1108" y="721" width="3" height="13" fill="#DC143C"/>
<rect x="1116" y="721" width="3" height="17" fill="#DC143C"/>
<rect x="1124" y="721" width="3" height="19" fill="#DC143C"/>
<rect x="1132" y="721" width="3" height="22" fill="#DC143C"/>
<rect x="1141" y="721" width="1" height="21" fill="#DC143C"/>
<rect x="1149" y="721" width="1" height="16" fill="#DC143C"/>
<rect x="1157" y="721" width="1" height="11" fill="#DC143C"/>
<rect x="1165" y="721" width="1" height="8" fill="#DC143C"/>
<rect x="1173" y="721" width="1" height="5" fill="#DC143C"/>
<rect x="1181" y="721" width="1" height="1" fill="#DC143C"/>
<rect x="1189" y="719" width="1" height="1" fill="#00BFFF"/>
<rect x="1196" y="715" width="3" height="5" fill="#00BFFF"/>
<rect x="1204" y="711" width="3" height="9" fill="#00BFFF"/>
<rect x="1212" y="707" width="3" height="13" fill="#00BFFF"/>
<rect x="1220" y="704" width="3" height="16" fill="#00BFFF"/>
<rect x="1229" y="706" width="1" height="14" fill="#00BFFF"/>
<rect x="1237" y="712" width="1" height="8" fill="#00BFFF"/>
<rect x="1245" y="713" width="1" height="7" fill="#00BFFF"/>
<rect x="1252" y="712" width="3" height="8" fill="#00BFFF"/>
<rect x="1260" y="712" width="3" height="8" fill="#00BFFF"/>
<rect x="1268" y="710" width="3" height="10" fill="#00BFFF"/>
<rect x="1277" y="710" width="1" height="10" fill="#00BFFF"/>
<rect x="1285" y="712" width="1" height="8" fill="#00BFFF"/>
<rect x="1293" y="716" width="1" height="4" fill="#00BFFF"/>
<rect x="1308" y="721" width="3" height="5" fill="#DC143C"/>
<rect x="1316" y="721" width="3" height="9" fill="#DC143C"/>
<rect x="1324" y="721" width="3" height="11" fill="#DC143C"/>
<rect x="1333" y="721" width="1" height="11" fill="#DC143C"/>
<rect x="1340" y="721" width="3" height="11" fill="#DC143C"/>
<rect x="1348" y="721" width="3" height="13" fill="#DC143C"/>
<rect x="1356" y="721" width="3" height="15" fill="#DC143C"/>
<rect x="1364" y="721" width="3" height="18" fill="#DC143C"/>
<rect x="1373" y="721" width="1" height="18" fill="#DC143C"/>
<rect x="1381" y="721" width="1" height="13" fill="#DC143C"/>
<rect x="1389" y="721" width="1" height="8" fill="#DC143C"/>
<rect x="1397" y="721" width="1" height="5" fill="#DC143C"/>
<line x1="5" y1="720.5" x2="1566" y2="720.5" stroke="#E0E0E0" stroke-width="1" stroke-dasharray="3 3"/>
<line x1="5.4" y1="721.3" x2="188.1" y2="734.5" stroke="#00BFFF" stroke-width="1" stroke-dasharray="4 4"/>
<line x1="188.1" y1="733.7" x2="292.8" y2="732.1" stroke="#00BFFF" stroke-width="1"/>
<line x1="292.6" y1="732.1" x2="389.0" y2="728.1" stroke="#00BFFF" stroke-width="1"/>
<line x1="254.2" y1="717.7" x2="359.4" y2="714.5" stroke="#DC143C" stroke-width="1" stroke-dasharray="4 4"/>
<line x1="612.2" y1="702.7" x2="669.8" y2="705.5" stroke="#DC143C" stroke-width="1.3"/>
<line x1="782.1" y1="750.1" x2="853.1" y2="741.7" stroke="#00BFFF" stroke-width="1.6"/>
<line x1="853.1" y1="741.7" x2="885.2" y2="737.1" stroke="#00BFFF" stroke-width="1"/>
<line x1="885.2" y1="737.1" x2="957.2" y2="727.1" stroke="#00BFFF" stroke-width="1"/>
<line x1="833.1" y1="731.1" x2="924.2" y2="718.1" stroke="#DC143C" stroke-width="1" stroke-dasharray="4 5"/>
<line x1="957.0" y1="728.1" x2="1132.5" y2="743.1" stroke="#00BFFF" stroke-width="1" stroke-dasharray="4 4"/>
<line x1="1221.6" y1="704.5" x2="1269.6" y2="710.5" stroke="#DC143C" stroke-width="1.3"/>
<polyline points="5.5,720.7 13.5,721.3 21.5,719.1 29.5,715.1 37.5,711.1 45.5,707.7 53.5,704.7 61.5,703.1 69.5,699.1 77.5,699.3 85.5,698.1 93.5,697.1 101.5,693.7 109.5,690.1 117.5,687.7 125.5,694.1 133.5,704.1 141.5,711.7 149.5,717.1 157.5,721.1 165.5,725.1 173.5,728.1 181.5,731.1 189.5,733.7 197.5,733.1 205.5,728.1 213.5,723.1 221.5,722.1 229.5,722.1 237.5,721.1 245.5,718.1 253.5,718.1 261.5,721.1 269.5,724.1 277.5,728.1 285.5,731.7 293.5,732.1 301.5,732.1 309.5,731.1 317.5,730.1 325.5,729.1 333.5,725.1 341.5,720.1 349.5,715.7 357.5,714.5 365.5,719.1 373.5,723.1 381.5,726.5 389.5,727.7 397.5,727.7 405.5,726.5 413.5,725.7 421.5,721.1 429.5,716.7 437.5,714.5 445.5,713.3 453.5,713.1 461.5,713.7 469.5,714.1 477.5,714.1 485.5,714.1 493.5,715.1 501.5,719.7 509.5,723.7 517.5,724.1 525.5,724.1 533.5,720.7 541.5,717.7 549.5,713.7 557.5,710.5 565.5,710.1 573.5,710.1 581.5,709.7 589.5,707.1 597.5,705.1 605.5,704.5 613.5,703.1 621.5,703.7 629.5,705.1 637.5,707.1 645.5,708.5 653.5,709.1 661.5,708.1 669.5,706.1 677.5,712.1 685.5,717.1 693.5,721.1 701.5,725.1 709.5,727.7 717.5,729.7 725.5,732.1 733.5,732.7 741.5,734.5 749.5,737.1 757.5,740.1 765.5,743.1 773.5,746.5 781.5,749.7 789.5,743.1 797.5,738.1 805.5,734.5 813.5,732.7 821.5,732.5 829.5,732.5 837.5,735.1 845.5,739.1 853.5,741.7 861.5,738.5 869.5,736.1 877.5,735.7 885.5,737.1 893.5,733.1 901.5,726.1 909.5,721.1 917.5,719.1 925.5,716.7 933.5,717.1 941.5,720.1 949.5,723.1 957.5,726.5 965.5,727.1 973.5,726.1 981.5,723.1 989.5,720.7 997.5,716.1 1005.5,711.1 1013.5,707.1 1021.5,705.1 1029.5,704.1 1037.5,703.1 1045.5,703.1 1053.5,705.7 1061.5,710.1 1069.5,716.1 1077.5,721.7 1085.5,726.5 1093.5,730.1 1101.5,731.1 1109.5,734.5 1117.5,737.7 1125.5,740.5 1133.5,743.5 1141.5,742.1 1149.5,737.1 1157.5,732.1 1165.5,729.1 1173.5,726.1 1181.5,722.1 1189.5,719.1 1197.5,715.1 1205.5,711.1 1213.5,707.1 1221.5,704.5 1229.5,705.7 1237.5,711.7 1245.5,713.1 1253.5,712.5 1261.5,711.7 1269.5,710.1 1277.5,710.1 1285.5,712.1 1293.5,716.1 1301.5,721.1 1309.5,726.1 1317.5,730.5 1325.5,732.1 1333.5,732.1 1341.5,732.5 1349.5,734.1 1357.5,736.1 1365.5,738.7 1373.5,738.7 1381.5,733.7 1389.5,729.1 1397.5,726.1" fill="none" stroke="#808080" stroke-width="2.1" stroke-linejoin="round"/>
</g>
<circle cx="188.1" cy="738.5" r="2.6" fill="#32CD32"/>
<circle cx="1132.5" cy="747.7" r="2.6" fill="#32CD32"/>
<circle cx="356.4" cy="710.5" r="2.6" fill="#F08CA0"/>
<circle cx="924.4" cy="713.7" r="2.6" fill="#F08CA0"/>
<g clip-path="url(#c3)">
<polygon points="292.8,730.9 298.3,736.6 298.3,741.1 294.5,737.3 294.5,743.5 291.1,743.5 291.1,737.3 287.3,741.1 287.3,736.6" fill="#32CD32"/>
<polygon points="389.0,727.9 394.5,733.6 394.5,738.1 390.7,734.3 390.7,740.5 387.3,740.5 387.3,734.3 383.5,738.1 383.5,733.6" fill="#32CD32"/>
<polygon points="852.7,740.9 858.2,746.6 858.2,751.1 854.4,747.3 854.4,753.5 851.0,753.5 851.0,747.3 847.2,751.1 847.2,746.6" fill="#32CD32"/>
<polygon points="885.2,736.9 890.7,742.6 890.7,747.1 886.9,743.3 886.9,749.5 883.5,749.5 883.5,743.3 879.7,747.1 879.7,742.6" fill="#32CD32"/>
<polygon points="956.8,726.9 962.3,732.6 962.3,737.1 958.5,733.3 958.5,739.5 955.1,739.5 955.1,733.3 951.3,737.1 951.3,732.6" fill="#32CD32"/>
<polygon points="669.6,705.5 675.1,699.8 675.1,695.5 671.3,699.3 671.3,693.1 667.9,693.1 667.9,699.3 664.1,695.5 664.1,699.8" fill="#E8708C"/>
<polygon points="1269.6,710.5 1275.1,704.8 1275.1,700.5 1271.3,704.3 1271.3,698.1 1267.9,698.1 1267.9,704.3 1264.1,700.5 1264.1,704.8" fill="#E8708C"/>
</g>
<text x="9.2" y="695.5" font-size="10.0" fill="#DADADA" textLength="225.0" lengthAdjust="spacingAndGlyphs" >eft div1: Ehlers' Fisher Transform (10) -0.7363 -0.7363</text>
<text transform="translate(1570.0,693.5) scale(0.912,1)" font-size="10.0" fill="#DADADA" >4.5462</text>
<text transform="translate(1570.0,724.0) scale(0.912,1)" font-size="10.0" fill="#DADADA" >0.00</text>
<text transform="translate(1570.0,751.0) scale(0.912,1)" font-size="10.0" fill="#DADADA" >-4.2382</text>
<rect x="1567" y="720" width="1" height="1" fill="#C8C8C8"/>
<rect x="5" y="755" width="1" height="3" fill="#C8C8C8"/>
<text transform="translate(4.0,767.6) scale(0.912,1)" font-size="10.0" fill="#DADADA" >4 Feb 2021</text>
<rect x="69" y="755" width="1" height="3" fill="#C8C8C8"/>
<text transform="translate(68.0,767.6) scale(0.912,1)" font-size="10.0" fill="#DADADA" >16 Feb 2021</text>
<rect x="133" y="755" width="1" height="3" fill="#C8C8C8"/>
<text transform="translate(132.0,767.6) scale(0.912,1)" font-size="10.0" fill="#DADADA" >26 Feb 2021</text>
<rect x="197" y="755" width="1" height="3" fill="#C8C8C8"/>
<text transform="translate(196.0,767.6) scale(0.912,1)" font-size="10.0" fill="#DADADA" >10 Mar 2021</text>
<rect x="261" y="755" width="1" height="3" fill="#C8C8C8"/>
<text transform="translate(260.0,767.6) scale(0.912,1)" font-size="10.0" fill="#DADADA" >22 Mar 2021</text>
<rect x="325" y="755" width="1" height="3" fill="#C8C8C8"/>
<text transform="translate(324.0,767.6) scale(0.912,1)" font-size="10.0" fill="#DADADA" >1 Apr 2021</text>
<rect x="389" y="755" width="1" height="3" fill="#C8C8C8"/>
<text transform="translate(388.0,767.6) scale(0.912,1)" font-size="10.0" fill="#DADADA" >13 Apr 2021</text>
<rect x="453" y="755" width="1" height="3" fill="#C8C8C8"/>
<text transform="translate(452.0,767.6) scale(0.912,1)" font-size="10.0" fill="#DADADA" >23 Apr 2021</text>
<rect x="517" y="755" width="1" height="3" fill="#C8C8C8"/>
<text transform="translate(516.0,767.6) scale(0.912,1)" font-size="10.0" fill="#DADADA" >5 May 2021</text>
<rect x="581" y="755" width="1" height="3" fill="#C8C8C8"/>
<text transform="translate(580.0,767.6) scale(0.912,1)" font-size="10.0" fill="#DADADA" >17 May 2021</text>
<rect x="645" y="755" width="1" height="3" fill="#C8C8C8"/>
<text transform="translate(644.0,767.6) scale(0.912,1)" font-size="10.0" fill="#DADADA" >27 May 2021</text>
<rect x="709" y="755" width="1" height="3" fill="#C8C8C8"/>
<text transform="translate(708.0,767.6) scale(0.912,1)" font-size="10.0" fill="#DADADA" >8 Jun 2021</text>
<rect x="773" y="755" width="1" height="3" fill="#C8C8C8"/>
<text transform="translate(772.0,767.6) scale(0.912,1)" font-size="10.0" fill="#DADADA" >18 Jun 2021</text>
<rect x="837" y="755" width="1" height="3" fill="#C8C8C8"/>
<text transform="translate(836.0,767.6) scale(0.912,1)" font-size="10.0" fill="#DADADA" >30 Jun 2021</text>
<rect x="901" y="755" width="1" height="3" fill="#C8C8C8"/>
<text transform="translate(900.0,767.6) scale(0.912,1)" font-size="10.0" fill="#DADADA" >12 Jul 2021</text>
<rect x="965" y="755" width="1" height="3" fill="#C8C8C8"/>
<text transform="translate(964.0,767.6) scale(0.912,1)" font-size="10.0" fill="#DADADA" >22 Jul 2021</text>
<rect x="1029" y="755" width="1" height="3" fill="#C8C8C8"/>
<text transform="translate(1028.0,767.6) scale(0.912,1)" font-size="10.0" fill="#DADADA" >3 Aug 2021</text>
<rect x="1093" y="755" width="1" height="3" fill="#C8C8C8"/>
<text transform="translate(1092.0,767.6) scale(0.912,1)" font-size="10.0" fill="#DADADA" >13 Aug 2021</text>
<rect x="1157" y="755" width="1" height="3" fill="#C8C8C8"/>
<text transform="translate(1156.0,767.6) scale(0.912,1)" font-size="10.0" fill="#DADADA" >25 Aug 2021</text>
<rect x="1221" y="755" width="1" height="3" fill="#C8C8C8"/>
<text transform="translate(1220.0,767.6) scale(0.912,1)" font-size="10.0" fill="#DADADA" >6 Sep 2021</text>
<rect x="1285" y="755" width="1" height="3" fill="#C8C8C8"/>
<text transform="translate(1284.0,767.6) scale(0.912,1)" font-size="10.0" fill="#DADADA" >16 Sep 2021</text>
<rect x="1349" y="755" width="1" height="3" fill="#C8C8C8"/>
<text transform="translate(1348.0,767.6) scale(0.912,1)" font-size="10.0" fill="#DADADA" >28 Sep 2021</text></svg></body></html>
